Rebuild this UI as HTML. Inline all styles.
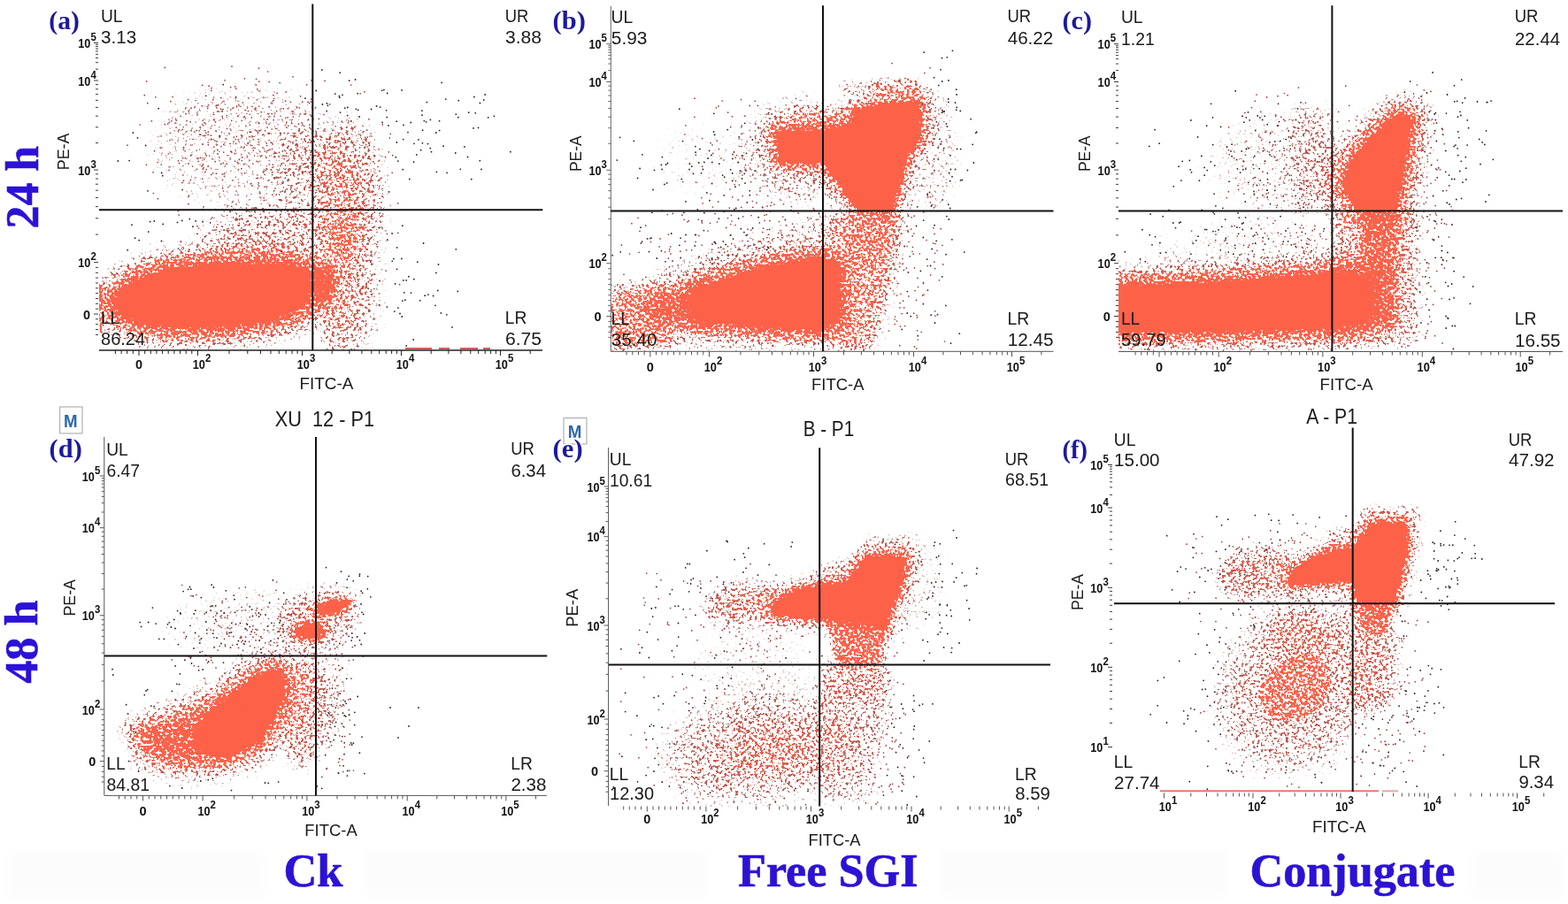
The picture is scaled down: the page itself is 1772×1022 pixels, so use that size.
<!DOCTYPE html>
<html lang="en"><head><meta charset="utf-8"><title>Flow cytometry</title>
<style>html,body{margin:0;padding:0;background:#fff;overflow:hidden}svg{display:block}text{font-family:"Liberation Sans",sans-serif}.tk{font-size:14.5px;font-weight:bold;fill:#111}.se{font-family:"Liberation Serif",serif;font-weight:bold}</style></head><body>
<svg width="1772" height="1022" viewBox="0 0 1772 1022">
<defs>
<filter id="b1" x="-50%" y="-50%" width="200%" height="200%"><feGaussianBlur stdDeviation="1"/></filter>
<filter id="b2" x="-50%" y="-50%" width="200%" height="200%"><feGaussianBlur stdDeviation="2"/></filter>
<filter id="b3" x="-50%" y="-50%" width="200%" height="200%"><feGaussianBlur stdDeviation="3"/></filter>
<filter id="b4" x="-50%" y="-50%" width="200%" height="200%"><feGaussianBlur stdDeviation="4"/></filter>
<filter id="b5" x="-50%" y="-50%" width="200%" height="200%"><feGaussianBlur stdDeviation="5"/></filter>
<filter id="b6" x="-50%" y="-50%" width="200%" height="200%"><feGaussianBlur stdDeviation="6"/></filter>
<filter id="b7" x="-50%" y="-50%" width="200%" height="200%"><feGaussianBlur stdDeviation="7"/></filter>
<filter id="b8" x="-50%" y="-50%" width="200%" height="200%"><feGaussianBlur stdDeviation="8"/></filter>
<filter id="b10" x="-50%" y="-50%" width="200%" height="200%"><feGaussianBlur stdDeviation="10"/></filter>
<filter id="b12" x="-50%" y="-50%" width="200%" height="200%"><feGaussianBlur stdDeviation="12"/></filter>
<filter id="b14" x="-50%" y="-50%" width="200%" height="200%"><feGaussianBlur stdDeviation="14"/></filter>
<filter id="b16" x="-50%" y="-50%" width="200%" height="200%"><feGaussianBlur stdDeviation="16"/></filter>
<filter id="b20" x="-50%" y="-50%" width="200%" height="200%"><feGaussianBlur stdDeviation="20"/></filter>
<filter id="b24" x="-50%" y="-50%" width="200%" height="200%"><feGaussianBlur stdDeviation="24"/></filter>
<filter id="sp" filterUnits="userSpaceOnUse" x="0" y="0" width="1772" height="1022" color-interpolation-filters="sRGB">
<feTurbulence type="fractalNoise" baseFrequency="0.32" numOctaves="2" seed="7" result="noise"/>
<feColorMatrix in="noise" type="matrix" values="0 0 0 0 0 0 0 0 0 0 0 0 0 0 0 1 0 0 0 0" result="n0"/>
<feComponentTransfer in="n0" result="nA"><feFuncA type="table" tableValues="0.000 0.000 0.000 0.000 0.000 0.000 0.000 0.001 0.003 0.007 0.014 0.028 0.046 0.070 0.107 0.146 0.202 0.258 0.322 0.410 0.487 0.580 0.671 0.739 0.808 0.857 0.898 0.935 0.959 0.976 0.988 0.994 0.998 0.999 1.000 1.000 1.000 1.000 1.000 1.000 1.000"/></feComponentTransfer>
<feGaussianBlur in="SourceAlpha" stdDeviation="1.5" result="D"/>
<feComposite in="D" in2="nA" operator="arithmetic" k1="0" k2="1.18" k3="1" k4="-1" result="sum"/>
<feComponentTransfer in="sum" result="mask"><feFuncA type="linear" slope="6" intercept="0"/></feComponentTransfer>
<feFlood flood-color="#a54f4b" result="fk"/>
<feComposite in="fk" in2="mask" operator="in" result="K"/>
<feFlood flood-color="#fd6249" result="fs"/>
<feComposite in="fs" in2="mask" operator="in" result="S"/>
<feComponentTransfer in="D" result="D2"><feFuncA type="linear" slope="3.3" intercept="-0.4"/></feComponentTransfer>
<feComposite in="S" in2="D2" operator="in" result="S2"/>
<feMerge result="M"><feMergeNode in="K"/><feMergeNode in="S2"/></feMerge>
<feGaussianBlur in="M" stdDeviation="0.45"/>
</filter>
<clipPath id="ca"><rect x="112" y="5" width="502" height="391"/></clipPath>
<clipPath id="cb"><rect x="690" y="6" width="501" height="391"/></clipPath>
<clipPath id="cc"><rect x="1264" y="6" width="503" height="391"/></clipPath>
<clipPath id="cd"><rect x="118" y="494" width="501" height="405.5"/></clipPath>
<clipPath id="ce"><rect x="688" y="506" width="500" height="405.5"/></clipPath>
<clipPath id="cf"><rect x="1258" y="483" width="500" height="412.5"/></clipPath>
</defs>
<rect width="1772" height="1022" fill="#fff"/>
<rect x="8" y="962" width="292" height="52" fill="#fcfcfc" filter="url(#b6)"/>
<rect x="412" y="962" width="388" height="52" fill="#fcfcfc" filter="url(#b6)"/>
<rect x="1062" y="962" width="326" height="52" fill="#fcfcfc" filter="url(#b6)"/>
<rect x="1662" y="962" width="104" height="52" fill="#fcfcfc" filter="url(#b6)"/>
<g id="panel-a">
<path d="M314.2 194.5h0M313.1 105.3h0M353.4 178.7h0M252.4 184.4h0M315.5 172.4h0M292 183h0M238.4 153.2h0M256.3 185.2h0M292.8 147.7h0M235.3 149.2h0M290.6 148.4h0M380.6 202.3h0M277.8 142.3h0M305 169.1h0M263.6 245.8h0M335.3 187.8h0M254 90.8h0M301.7 164.6h0M204.1 131.3h0M285 120.3h0M283.1 164h0M292.5 138.7h0M331.6 197.4h0M312.5 125.6h0M341.2 138.9h0M351.5 115h0M354 159.2h0M202.6 146.8h0M293.8 171.5h0M221.2 113.5h0M304 140.4h0M306.5 191.9h0M174.6 170.7h0M375.7 147.5h0M233.2 191.6h0M307.7 197.6h0M265.8 97.8h0M282.3 141.3h0M344.3 168.1h0M175.8 109.8h0M351.9 188.6h0M245.2 160h0M321.2 179.7h0M351.3 170.8h0M283.4 149.1h0M280.3 161.4h0M190.2 174h0M244.4 196.2h0M281.2 188.1h0M375.3 176.1h0M228.7 96.4h0M412.7 155.3h0M241.8 166.1h0M276.6 195.8h0M292.4 160.6h0M240 179.7h0M217.6 188h0M396.7 96h0M202.5 184.7h0M231.1 138.7h0M265.6 182.3h0M261.6 171.7h0M277.6 124.5h0M267.6 120.1h0M290.5 112.8h0M213.5 221.2h0M286.3 157.7h0M325.8 142.3h0M274 177.9h0M309.8 111.3h0M348.3 135.2h0M216.1 122.2h0M262.7 228.3h0M207.7 166.7h0M353 150.1h0M245.9 169.7h0M339 187.9h0M428.1 168.8h0M248.5 154.7h0M284.9 164.6h0M287.9 167.3h0M173 194.8h0M249.8 110.7h0M334.6 215.3h0M324.5 166.8h0M351.6 112.1h0M235.4 163.7h0M181.2 167.1h0M257.9 211.5h0M292.9 92.1h0M367.7 167.1h0M328.4 115.3h0M418 244.8h0M215.5 175.7h0M242.9 159h0M201.4 238.4h0M222.2 147.6h0M325.1 132.8h0M273.2 136.3h0M280.7 110.8h0M259.3 151.3h0M266.6 162.4h0M269.5 191.6h0M267.4 154.3h0M243.5 137.9h0M201.5 181.8h0M210 128.7h0M315.1 176.9h0M262 75.2h0M319.4 170.9h0M191.1 192.4h0M240.9 112.7h0M296.7 152.5h0M304.2 92.6h0M416.9 134.7h0M182.2 186h0M265.2 173.6h0M266.2 157.5h0M307.2 128.6h0M337.5 140.3h0M229.1 163.2h0M321.2 150.4h0M229.6 186h0M166.8 116.7h0M292.8 102.8h0M292 157.7h0M352.9 121.6h0M246.2 174h0M241.1 129.3h0M350.3 158.3h0M165.4 186.3h0M349.9 141.1h0M270.3 180.4h0M226.4 178.4h0M304 131.7h0M192.6 150.5h0M228.7 202.1h0M300.1 192.8h0M299.4 171h0M235.2 188.1h0M414.9 147h0M248.5 153.4h0M256.3 130.5h0M299.7 147.8h0M390.7 160h0M312.7 200h0M268.9 220.3h0M245.7 126.1h0M264.4 155.2h0M191.9 158.5h0M173.3 218.5h0M284.3 133h0M226.4 143.9h0M274.4 116.1h0M225.6 152.1h0M253.5 199.4h0M369.7 160.7h0M323.2 103.9h0M334.6 158.7h0M323.9 227.2h0M213.1 184.9h0M198.1 139.2h0M304.2 185.8h0M295.2 126.7h0M251.3 197.1h0M289.6 89.3h0M349.1 177.5h0M351.1 145.9h0M348 115.4h0M329.9 139.4h0M337.2 202.2h0M238.5 157.8h0M292.7 210h0M339.7 108.8h0M322 191.3h0M252.5 216h0M195.1 109.6h0M326.2 202.8h0M243.2 182.7h0M298.2 223.8h0M289.9 201.6h0M226.8 152.2h0M283.2 207.8h0M330.6 128.4h0M337.7 192.4h0M282.2 149.2h0M276.4 88.8h0M303.2 169.9h0M229.4 191.2h0M193.9 136.8h0M256.7 243.5h0M178.1 183.6h0M355.9 175.9h0M372.7 117.9h0M206.3 146.3h0M207.5 204.2h0M350.6 129.8h0M353.2 165.1h0M280.2 162.4h0M275.8 185.8h0M311.7 145.3h0M360.4 134.3h0M310.1 177.7h0M393.5 138.8h0M412 167.4h0M276.4 131.8h0M331 162.1h0M212.7 112.6h0M251.1 131.6h0M366.3 217.8h0M350.8 175h0M260 162.3h0M353.9 148.2h0M292.7 139.7h0M235.2 152.3h0M303.7 237.1h0M293.6 217h0M413.7 163.3h0M402.5 190h0M260.8 171.1h0M291.6 150.2h0M276.1 166.1h0M320.4 122.8h0M289.3 96.1h0M308.3 186.2h0M301.5 172h0M331.3 132.1h0M273.3 181.5h0M360.1 176.6h0M360 213.2h0M280.6 125.5h0M207.2 166.8h0M367.7 171.4h0M302.1 144.1h0M306.3 161.2h0M192.9 114.7h0M205.9 206.6h0M227.8 188.1h0M331.1 170.9h0M198.5 134.3h0M407.1 105.8h0M231.8 153.2h0M346.6 170.6h0M341.9 115.2h0M356.1 183.9h0M178.4 224.7h0M293.9 218.7h0M186.3 76.4h0M199.2 136.2h0M249.5 185.5h0M308.8 107.7h0M329.7 238.7h0M373.8 201.6h0M291.4 201.3h0M222.4 191.5h0M283.9 207.5h0M322.6 114.2h0M299 211.2h0M211 136.5h0M236.2 97.2h0M357.3 215.1h0M346 170.2h0M286.4 170.1h0M238.8 197.5h0M363.2 199.2h0M252.8 163.3h0M278.4 235.1h0M302.6 81h0M317.9 239.1h0M338 196.9h0M292.5 77.2h0M163.3 107.7h0M281.1 173h0M338.3 145.7h0M357 148.3h0M240.7 195.8h0M215.8 164h0M266.8 100.1h0M186.2 140.6h0M251.7 212.9h0M316.2 93.6h0M230.2 189.6h0M422.7 176.2h0M311.7 238.2h0M288.4 147h0M191.1 138.5h0M290.8 100.9h0M299 197.3h0M272.9 190.7h0M340.5 178.8h0M410.1 192.7h0M268.7 131.4h0M230.8 180h0M419 151h0M267 231h0M158.2 141h0M356.6 121.7h0M256.6 145.3h0M336.3 165.8h0M318.1 185h0M292.1 206.6h0M239 99.7h0M165.6 91.9h0M251.5 203.3h0M302.2 134.9h0M215.1 137.8h0M261.7 136.3h0M189.7 140h0M302.8 128.6h0M144 164.2h0M417.2 164.6h0M371.3 157h0M260.7 98.6h0M344.9 172h0M253.2 196.5h0M229 187h0M224.2 182.4h0M212.9 222.5h0M307.8 220.2h0M232.4 140h0M215.3 203.4h0M322.6 201.1h0M268.3 183.7h0M238.8 102.4h0M171.4 136.8h0M251.6 133.6h0M252.7 172.1h0M249.5 123.2h0M212.9 230.7h0M399.2 171.5h0M249.9 165.6h0M209.3 171h0M290.2 182.3h0M356.5 232.8h0M262.8 203.8h0M234.6 122.4h0M246.7 118.8h0M358.6 198.8h0M379.1 158.9h0M309.2 135.7h0M209.4 178.8h0M308.8 113.5h0M331 86.8h0M277.5 133.5h0M253 114.5h0M356.7 183.8h0M372.8 165.5h0M199.1 144.1h0M206.6 178.8h0M373.9 173.3h0M385.7 357h0M395.3 192.4h0M382 254.6h0M377.1 182.4h0M365.9 129.6h0M392.7 279.8h0M411.8 103.8h0M413.5 246.9h0M346.5 256.1h0M413.8 290h0M411.1 323.9h0M416.2 245.4h0M400 210.7h0M409.9 312.1h0M360.1 322.9h0M375.2 186h0M407.1 199.2h0M415.2 155.1h0M390.5 181h0M382.4 218.7h0M355.6 300.9h0M352.1 170.1h0M416.2 326.4h0M409.5 275.8h0M367.2 169.1h0M416.4 271.7h0M422.8 326.5h0M382.8 183.2h0M418.6 296.2h0M379.4 232.9h0M379.2 222.9h0M378.1 272h0M395.8 317.1h0M389.2 312.6h0M441.3 151.3h0M381.2 305.4h0M363.1 306.7h0M346.7 95.8h0M349.7 116.6h0M389 223.4h0M399.4 166h0M388.2 285.3h0M382.3 198.4h0M392.2 322.4h0M409.6 324.2h0M372.7 186.9h0M449.7 229.8h0M404 308.1h0M432.3 140.9h0M375.2 214.4h0M398.6 292.1h0M407.6 152.8h0M418.4 180.1h0M352.9 170.8h0M364.3 263.1h0M373.5 321.5h0M395.9 290.1h0M344.9 325.9h0M342.9 265.2h0M405.3 320.5h0M371.8 211.5h0M425.1 250.1h0M386.2 137.2h0M394.5 301.7h0M366.2 209.4h0M437.4 264.3h0M381.3 159h0M371.4 230h0M431.1 201.2h0M443.8 175.7h0M379.3 317.5h0M382.8 183.6h0M386 285.9h0M338.5 230.1h0M386.7 217.7h0M412.1 204.5h0M379.1 253h0M411.9 232.3h0M435.5 177.4h0M428.6 181.4h0M385.1 279.1h0M451.6 321.7h0M377.8 353.9h0M383.6 186.7h0M403.5 257.6h0M418.6 206h0M401.4 300.8h0M398.3 247.7h0M369.1 322.3h0M394.1 289.7h0M379.5 251h0M358.9 256.8h0M413 257.4h0M415.8 275h0M430.9 234.8h0M340.8 284.6h0M385 172.1h0M409.5 271.1h0M403.4 223.4h0M395.9 270.3h0M443.2 195.3h0M389.7 279.1h0M338.3 121.8h0M407.2 182.1h0M367.1 91.4h0M363 312.8h0M348.3 297.6h0M375.8 351.1h0M416.7 227.1h0M340.1 370.8h0M349.1 212.1h0M416.5 339.3h0M364.6 247.4h0M382.2 344.5h0M390.4 161.3h0M449.8 263.3h0M367.9 210.1h0M372.7 265.1h0M385.3 302.5h0M436.2 306.1h0M353.2 120.1h0M367.3 334.3h0M379.9 196.6h0M394.1 136.8h0M355.8 290.8h0M380.9 213.7h0M399.5 203.2h0M369.4 213.2h0M408.1 254.8h0M354.2 225.8h0M355.7 277.1h0M382.2 316h0M403.5 367.8h0M405.6 206.4h0M373.8 282.4h0M440.3 156.1h0M400.5 143.5h0M340.3 309.5h0M406.6 166.9h0M439.3 171.8h0M355 302.2h0M396.6 237.2h0M388 267.9h0M385.8 236.2h0M333.1 142.6h0M408.3 193.7h0M202.2 243.1h0M250 280.7h0M362.1 263.5h0M386.1 265.6h0M275.1 265.6h0M293.1 273h0M224.8 277h0M277 274.8h0M222.9 255.7h0M303.9 275.5h0M239.1 287h0M324.1 254.1h0M360.9 263.5h0M338.4 254.1h0M278.7 270.7h0M314.4 249.5h0M266.6 272h0M336.2 258.8h0M339 275h0M302.6 246.8h0M230.1 233.9h0M361.1 258.9h0M273 257.8h0M233 266.6h0M365.9 279.1h0M221.7 282.5h0M261.8 233.3h0M238.5 247.5h0M299.7 246.5h0M224.5 258h0M396.2 251.5h0M323.2 263.2h0M354.8 242.8h0M270.4 260.5h0M205.6 281.5h0M258 258.4h0M298.8 263.5h0M291.5 266h0M319.4 274.8h0M278.6 250.8h0M246.8 270.9h0M297.7 270.3h0M326.9 287.3h0M310.4 273.3h0M239.9 245.8h0M284.4 243.7h0M334.5 242h0M244.8 256.9h0M287 235.1h0M305.4 276.6h0M332.4 252.1h0M270.6 244.2h0M331.5 283.6h0M273.7 236.5h0M310 272.6h0M327.5 268h0M353.1 247.9h0M257.7 268.1h0M265.7 265.9h0M204.4 273.4h0" stroke="#9c3a36" stroke-width="1.7" stroke-linecap="round" fill="none"/>
<path d="M546.7 112.9h0M473 157.9h0M576.9 171.7h0M540.5 144.4h0M514.8 173h0M470.8 174.9h0M535 144.9h0M532.8 202.7h0M492.8 150h0M477 130.2h0M496.6 136.8h0M476.9 125.2h0M425.5 120h0M503.8 112.1h0M462.8 202.5h0M537.3 127.8h0M515.3 129.2h0M558.4 131.3h0M493.4 194.3h0M455.2 191.7h0M455.7 157.6h0M477.6 147.2h0M496.7 147.6h0M447.3 177.7h0M520.3 191.3h0M548.2 107h0M544 191.5h0M467.6 183.2h0M551.7 132.8h0M432.1 138.5h0M439 141.9h0M448.2 137.2h0M505.1 195.3h0M481.7 137.8h0M535.9 109.5h0M437.7 105.5h0M483.4 162.6h0M486.2 167.6h0M524.9 165.9h0M456 141.4h0M542.4 116.5h0M479.4 136.6h0M482.4 115.6h0M529.7 127.2h0M487.5 171.7h0M475.6 169.7h0M464.2 138.5h0M486.4 135.4h0M501 165.2h0M448.3 161h0M499.1 93.4h0M449.9 182.1h0M461 149.6h0M518.3 113.7h0M542.3 181.7h0M517.8 132.7h0M528.5 177.4h0M439.6 216.9h0M477.4 161.8h0M468 162.3h0M387 107.3h0M369.4 116.9h0M429.6 121.1h0M419.6 123.5h0M454.1 101.9h0M402.4 123.3h0M383.4 108.7h0M369.2 125.6h0M404.1 105.7h0M352.2 90.8h0M370.4 119.3h0M363.9 78.9h0M357.3 102.5h0M384.5 127.1h0M437.2 132.6h0M394.7 91.2h0M384.3 82.2h0M404.7 124.4h0M345 111.2h0M406.2 132h0M436.6 124.8h0M378.8 106.1h0M431.7 102.3h0M396.8 137h0M401.6 90h0M389.7 122.2h0M392.7 130.6h0M433.9 101.6h0M383.9 110.3h0M364.4 118h0M179.2 122.7h0M352.1 131.3h0M133.3 182h0M146.1 181.6h0M183.7 198.7h0M232.7 108.3h0M252.2 95.6h0M266.7 109.8h0M164.6 164.5h0M206.1 214.6h0M155.5 155.9h0M167 215.8h0M150.4 150.2h0M182.7 195.5h0M392.8 121.5h0M455.8 316.9h0M471.8 296.2h0M452 354.5h0M464.5 331.1h0M428.5 344.9h0M454.3 358h0M517.3 329.4h0M478.6 275h0M459.2 390.9h0M453.9 292.4h0M461.9 312.7h0M448.5 304.3h0M515.3 281.8h0M443.3 295.3h0M492.9 308.4h0M494.8 328.5h0M454.9 255.2h0M492 345.3h0M467.8 315.7h0M443.1 263.9h0M484 333.1h0M444.9 292.6h0M459.1 316.9h0M504.9 355.8h0M437.8 271.2h0M448.6 279.9h0M457.9 339.2h0M474.8 339.8h0M450 348.1h0M429.1 317.6h0M480.2 334.2h0M511 369.9h0M495.5 299h0M454.9 340.1h0M446.6 320.9h0M467.2 384h0M429 257.3h0M456.8 330.8h0M498.4 353.9h0M437.4 347.1h0M489.6 334.5h0M445.9 352.1h0M174.3 250h0M167.8 262.1h0M184.2 253.5h0M221.1 249.9h0M169.6 250.7h0M229.1 250.7h0M317.4 284.1h0M294.4 253.5h0M280.3 250.2h0M318.5 284h0M268.3 248.4h0M200.5 251.4h0M237.7 251.8h0M314.1 249.6h0M231.5 267.6h0M214.3 247.6h0M223 264.3h0M149 254.2h0M205.8 249.4h0M157.2 271.7h0M312.9 281.6h0M278.2 272.4h0M217.9 256.2h0M144.2 282.7h0M152.6 269.2h0M182.5 272.5h0" stroke="#2e1c1c" stroke-width="1.8" stroke-linecap="round" fill="none"/>
<g filter="url(#sp)" clip-path="url(#ca)"><g>
<ellipse cx="275" cy="165" rx="105" ry="68" fill-opacity="0.11" filter="url(#b12)"/>
<ellipse cx="338" cy="200" rx="30" ry="60" fill-opacity="0.119" filter="url(#b10)"/>
<rect x="200" y="119" width="152" height="8" fill-opacity="0.068" filter="url(#b3)"/>
<rect x="200" y="149" width="152" height="8" fill-opacity="0.068" filter="url(#b3)"/>
<rect x="225" y="173" width="127" height="6" fill-opacity="0.051" filter="url(#b3)"/>
<ellipse cx="300" cy="262" rx="70" ry="28" fill-opacity="0.212" filter="url(#b10)"/>
<ellipse cx="392" cy="215" rx="40" ry="80" fill-opacity="0.254" filter="url(#b10)"/>
<ellipse cx="388" cy="225" rx="22" ry="50" fill-opacity="0.17" filter="url(#b8)"/>
<ellipse cx="388" cy="325" rx="32" ry="80" fill-opacity="0.28" filter="url(#b10)"/>
<ellipse cx="383" cy="325" rx="16" ry="60" fill-opacity="0.117" filter="url(#b8)"/>
<ellipse cx="425" cy="290" rx="14" ry="100" fill-opacity="0.068" filter="url(#b8)"/>
<g opacity="0.271" filter="url(#b8)"><path d="M125 340L150 318L190 304L230 299L300 297L330 299L348 305L351 320L348 340L335 352L300 364L250 370L200 371L160 366L135 355Z" stroke="#000" stroke-width="48" stroke-linejoin="round"/></g>
<g opacity="0.558" filter="url(#b5)"><path d="M125 340L150 318L190 304L230 299L300 297L330 299L348 305L351 320L348 340L335 352L300 364L250 370L200 371L160 366L135 355Z" stroke="#000" stroke-width="24" stroke-linejoin="round"/></g>
<path d="M125 340L150 318L190 304L230 299L300 297L330 299L348 305L351 320L348 340L335 352L300 364L250 370L200 371L160 366L135 355Z" filter="url(#b2)"/>
<ellipse cx="366" cy="322" rx="14" ry="24" fill-opacity="0.72" filter="url(#b3)"/>
<rect x="112" y="320" width="3" height="56" fill-opacity="0.9"/>
</g></g>
<path d="M111 296.6h-5M111 265.1h-3M111 246.7h-3M111 233.6h-3M111 223.5h-3M111 215.2h-3M111 208.2h-3M111 202.1h-3M111 196.8h-3M111 192h-5M111 161.6h-3M111 143.8h-3M111 131.2h-3M111 121.4h-3M111 113.4h-3M111 106.6h-3M111 100.8h-3M111 95.6h-3M111 91h-5M111 78.2h-3M111 70.7h-3M111 65.4h-3M111 61.3h-3M111 57.9h-3M111 55.1h-3M111 52.6h-3M111 50.4h-3M111 48.5h-5M111 355h-5M111 378.4h-3M111 372.5h-3M111 366.7h-3M111 360.8h-3M111 349.2h-3M111 343.3h-3M111 337.5h-3M111 331.6h-3M111 325.8h-3M111 320h-3M111 314.1h-3M111 308.3h-3M111 302.4h-3" stroke="#3a3a3a" stroke-width="1" fill="none"/>
<line x1="112" y1="396" x2="613" y2="396" stroke="#222" stroke-width="1.3"/>
<path d="M223.5 396v6M259 396v4M279.8 396v4M294.5 396v4M306 396v4M315.3 396v4M323.2 396v4M330.1 396v4M336.1 396v4M341.5 396v6M375.2 396v4M394.9 396v4M408.9 396v4M419.8 396v4M428.7 396v4M436.2 396v4M442.6 396v4M448.4 396v4M453.5 396v6M487.2 396v4M506.9 396v4M520.9 396v4M531.8 396v4M540.7 396v4M548.2 396v4M554.6 396v4M560.4 396v4M565.5 396v6M599.2 396v4M157 396v6M130.4 396v4M137.1 396v4M143.7 396v4M150.3 396v4M163.7 396v4M170.3 396v4M176.9 396v4M183.6 396v4M190.2 396v4M196.9 396v4M203.6 396v4M210.2 396v4M216.8 396v4" stroke="#222" stroke-width="1" fill="none"/>
<line x1="353.3" y1="4.5" x2="353.3" y2="396" stroke="#111" stroke-width="2"/>
<line x1="112" y1="237.3" x2="613.3" y2="237.3" stroke="#111" stroke-width="2"/>
<path d="M458 394h30M496 394h12M520 394h20M546 394h8" stroke="#d0605a" stroke-width="2" fill="none"/>
<text x="113.9" y="24.6" font-size="20" textLength="24.6" lengthAdjust="spacingAndGlyphs" fill="#1a1a1a">UL</text>
<text x="114.1" y="49" font-size="20" textLength="40.1" lengthAdjust="spacingAndGlyphs" fill="#1a1a1a">3.13</text>
<text x="570.8" y="24.6" font-size="20" textLength="26.6" lengthAdjust="spacingAndGlyphs" fill="#1a1a1a">UR</text>
<text x="571" y="48.8" font-size="20" textLength="41.1" lengthAdjust="spacingAndGlyphs" fill="#1a1a1a">3.88</text>
<text x="113.9" y="365.6" font-size="20" textLength="21.4" lengthAdjust="spacingAndGlyphs" fill="#1a1a1a">LL</text>
<text x="114.1" y="390" font-size="20" textLength="49.9" lengthAdjust="spacingAndGlyphs" fill="#1a1a1a">86.24</text>
<text x="570.8" y="366" font-size="20" textLength="24.6" lengthAdjust="spacingAndGlyphs" fill="#1a1a1a">LR</text>
<text x="571" y="390.3" font-size="20" textLength="41.1" lengthAdjust="spacingAndGlyphs" fill="#1a1a1a">6.75</text>
<text x="88.3" y="54" class="tk" textLength="20.5" lengthAdjust="spacingAndGlyphs">10<tspan dy="-8" font-size="13">5</tspan></text>
<text x="88.3" y="96.5" class="tk" textLength="20.5" lengthAdjust="spacingAndGlyphs">10<tspan dy="-8" font-size="13">4</tspan></text>
<text x="88.3" y="197.5" class="tk" textLength="20.5" lengthAdjust="spacingAndGlyphs">10<tspan dy="-8" font-size="13">3</tspan></text>
<text x="88.3" y="302.1" class="tk" textLength="20.5" lengthAdjust="spacingAndGlyphs">10<tspan dy="-8" font-size="13">2</tspan></text>
<text x="98" y="360.5" class="tk" text-anchor="middle">0</text>
<text x="217.8" y="417.2" class="tk" textLength="20.5" lengthAdjust="spacingAndGlyphs">10<tspan dy="-8" font-size="13">2</tspan></text>
<text x="335.8" y="417.2" class="tk" textLength="20.5" lengthAdjust="spacingAndGlyphs">10<tspan dy="-8" font-size="13">3</tspan></text>
<text x="447.8" y="417.2" class="tk" textLength="20.5" lengthAdjust="spacingAndGlyphs">10<tspan dy="-8" font-size="13">4</tspan></text>
<text x="559.8" y="417.2" class="tk" textLength="20.5" lengthAdjust="spacingAndGlyphs">10<tspan dy="-8" font-size="13">5</tspan></text>
<text x="157" y="417.2" class="tk" text-anchor="middle">0</text>
<text x="338.4" y="440" font-size="19" textLength="61" lengthAdjust="spacingAndGlyphs" fill="#1a1a1a">FITC-A</text>
<text x="78.5" y="192.2" font-size="19" textLength="41.6" lengthAdjust="spacingAndGlyphs" fill="#1a1a1a" transform="rotate(-90 78.5 192.2)">PE-A</text>
<text x="55.3" y="32.6" font-size="30" textLength="34.6" lengthAdjust="spacingAndGlyphs" fill="#1d1a9c" class="se">(a)</text>
</g>
<g id="panel-b">
<path d="M890.4 176.5h0M979 251.5h0M862.1 234.8h0M895.5 175.1h0M933.8 186h0M861.9 164.4h0M905 195.5h0M910 172.7h0M887 159.8h0M926.3 208.5h0M898.2 218.5h0M824.4 235.2h0M993.1 126.3h0M784.9 132.3h0M926.3 205.8h0M939.3 232.5h0M891.6 212.8h0M870.7 239.1h0M817.9 181h0M893.4 281.1h0M838 151.4h0M849 243.6h0M867.1 259.6h0M777 250.8h0M936.9 136.2h0M888.4 254.7h0M884.8 245h0M864.6 165.3h0M915.6 191.1h0M870.2 195.3h0M915.7 152h0M945.9 203.3h0M963.1 199.6h0M839.2 221.5h0M875.8 143.6h0M831.3 279.5h0M899.5 218.7h0M864.8 169h0M929 195.3h0M838.2 194h0M830.2 208.6h0M942.1 162.4h0M958.6 170h0M888.4 162.4h0M867.8 202.1h0M856.1 168.4h0M842.7 163h0M793.6 188.2h0M902.1 240.9h0M897.5 179.5h0M982.9 152.9h0M933.3 157h0M899.5 111.4h0M929.5 192.9h0M826.8 275.5h0M922.1 202.1h0M839 198h0M871 232.6h0M923.9 170h0M849.8 176.1h0M805.8 173.4h0M874.9 231.1h0M952.6 163.6h0M910.3 180h0M994.1 197.8h0M907.6 157.9h0M835.4 209.1h0M858.9 215.9h0M794.1 229.8h0M830.5 277.5h0M864.1 249.4h0M803.3 219.3h0M831.2 178.1h0M881.4 185.7h0M894.5 233.6h0M915.9 196.1h0M805 163.8h0M921.4 189.2h0M866.2 242.7h0M916.7 209.9h0M824.9 214h0M899 160.2h0M937.4 222.9h0M771.7 205.5h0M810.4 251.1h0M924.4 150.3h0M831.3 204.6h0M866.9 268.6h0M920.8 187.3h0M911.8 108.5h0M897 239h0M870.2 168h0M911.1 288.1h0M891.3 149.6h0M959.5 115.5h0M907.7 173.8h0M931.2 161.8h0M952.8 213.5h0M785 111.2h0M862.6 258.2h0M887 203h0M867 233.2h0M900.8 212.6h0M825.8 253.5h0M955 141.4h0M853.2 114.3h0M916.1 225.1h0M847.2 119.4h0M941.8 173.5h0M855 229.2h0M838.2 142.1h0M792.9 223.6h0M884.9 207.2h0M926.3 161.9h0M812 120.1h0M861.6 234.2h0M871.8 228.9h0M815 178.9h0M837.9 143.8h0M982.3 238.3h0M838.1 165.5h0M876.9 135.1h0M904 141.8h0M859.6 153.9h0M853.6 140.1h0M793.5 156.5h0M842.6 186.7h0M883.8 268.7h0M924.7 188.6h0M919.9 169h0M959.7 224.7h0M805.4 234h0M838.9 178.7h0M773.9 152h0M827.8 222.8h0M858.3 251.9h0M884.3 212.2h0M816.2 114h0M837.8 234.3h0M967.1 227.2h0M907.4 162.3h0M964.4 260.5h0M850.8 197.9h0M825.2 266h0M902.3 195.7h0M902.4 219.8h0M857.4 144.1h0M809.4 121.8h0M786.6 206.2h0M902.6 155.7h0M891.2 150.6h0M946 173.3h0M885.5 230.8h0M856.4 119.4h0M850.8 234.3h0M875.4 210.3h0M820.6 206.4h0M920 201.6h0M984.9 190.6h0M822.7 127.2h0M943.4 197.3h0M935.6 220.6h0M969.4 257h0M859.2 212.3h0M939.7 144.4h0M959.8 254.5h0M934.1 191h0M896.6 149.7h0M883.2 173.6h0M884.8 177.7h0M895.6 253.1h0M808 241.6h0M873.4 200.3h0M904.4 125.9h0M876.7 205.7h0M949 195.3h0M909.1 156h0M869.7 180h0M918.7 155.5h0M834.1 225.9h0M978.4 217.2h0M896.7 184.4h0M939.9 224.3h0M975.3 214.9h0M827.8 174.4h0M825.7 143.7h0M949.5 236.3h0M811.9 280.2h0M893.5 156.9h0M901.2 196.9h0M837.5 112.6h0M882 213.1h0M914 178.9h0M886.2 187.4h0M834 183.8h0M954.3 134.7h0M893 208.3h0M841.1 180.2h0M803 161.7h0M880.8 214.7h0M848.6 205.7h0M867.3 182h0M951.6 178.5h0M953.4 251.4h0M822.5 246.6h0M858.8 157.7h0M774.9 141.8h0M848.1 155.1h0M812.4 168.7h0M868.6 265.2h0M786.3 175.2h0M827.5 131.8h0M810.4 159.2h0M919.4 191.3h0M850.4 227.5h0M895.4 190h0M901.1 162.7h0M914.5 221h0M857.3 145.1h0M963.6 204.2h0M926.9 180.5h0M894 237.5h0M836 195.5h0M888.9 205.1h0M912.8 246.2h0M925.8 211.8h0M860.9 149.2h0M839.5 176.2h0M917.5 183.6h0M811.7 228.2h0M835.8 165.5h0M867.6 221.3h0M889.7 183.6h0M832.5 175.6h0M956.2 179.5h0M919.2 235.6h0M855.2 220h0M855.2 172.5h0M818.1 239.4h0M858.1 175.2h0M818 281.4h0M920.8 194h0M841.8 131.2h0M896 213h0M802.5 252.3h0M922.7 156.7h0M849.4 180.8h0M888.8 193.4h0M789.9 266.3h0M897.4 256.7h0M1067.5 386h0M1032.6 354.2h0M1000.3 250.1h0M1044.8 82.6h0M1014.3 320.5h0M1052.6 196.6h0M1035.8 394.1h0M1022.4 130h0M1028.8 214.6h0M1056 264.4h0M1020 292.5h0M1043.5 320.6h0M1033.5 302.8h0M1028.6 122.3h0M1025.6 232.1h0M1026.4 262.2h0M1017.5 369.1h0M1030.2 186h0M1017.6 216.2h0M1017 347.8h0M1054.8 274.9h0M1043.9 239.9h0M1032.8 183.2h0M1030.7 185.8h0M1037.5 324.5h0M1036.2 356.6h0M1030.3 198.8h0M1020.9 127.8h0M1031.1 226.8h0M1017.3 227.1h0M1051.5 222.7h0M1011 277.6h0M1047.7 99.1h0M1025.6 260.8h0M1057 357.1h0M1033.3 181.3h0M1021.7 347.9h0M1065.7 298.9h0M1017.1 342.6h0M1022.5 213.3h0M1024.4 303.1h0M1035.5 339.4h0M1055.9 296.2h0M1033.2 244.2h0M1026.9 334.9h0M1051.3 228.8h0M1039.5 148h0M1011.1 361h0M1001.9 333h0M1043.6 319.3h0M1048.3 300.7h0M1018 332.3h0M1007.4 186.6h0M1022.7 368.5h0M1001.2 128.1h0M1036.6 209.1h0M998.5 212.2h0M1010 265.1h0M1037.3 384h0M1029.7 259h0M1018.5 247.9h0M1051 76.7h0M1043.2 201.8h0M1031.5 279.3h0M1047 271.5h0M1022.1 278.1h0M1030.2 231.6h0M1034.1 328.6h0M1032.8 264h0M1004.2 238.6h0M992.8 314.8h0M1011.2 366.6h0M1056.6 286.3h0M1018.9 174.3h0M1041.2 375.5h0M1037.1 113.9h0M1009.2 229.5h0M1057.1 275.5h0M1036.5 358.9h0M1025.9 242h0M1026.4 90h0M1039.3 287h0M1049.5 143h0M1013.7 334.1h0M1036.5 373.8h0M1012.7 268.1h0M1016.5 277.9h0M1020.3 298.2h0M1051.6 310.8h0M993.8 334.6h0M1039 156.1h0M1012.3 250.7h0M1041.5 209.4h0M997.5 275.3h0M1064.9 277.3h0M1063.2 258.7h0M1049.6 184h0M1031.6 158.7h0M998.5 225.6h0M1016.8 301.6h0M1055.4 234.8h0M1031.2 266.9h0M996.4 274.2h0M1030.2 245.8h0M1008 71.6h0M1025 278.5h0M1056.8 351.8h0M1059.1 283.3h0M1053.1 231.5h0M1042.6 333.9h0M1004.5 374h0M1014.2 244.5h0M1024.1 168.3h0M1056.7 303.6h0M1017.8 256.2h0M1021.3 305.4h0M1022.4 181h0M1017.1 210.7h0M1035.8 167.3h0M1028.2 289.9h0M1022.1 278.8h0M1061.4 316.8h0M1032.2 287.2h0M1057.2 151.8h0M1052.1 101.2h0M1031 284.3h0M996.1 311.8h0M1016.8 390.7h0M1015.8 171h0M1054.9 257.7h0M1050 121.3h0M1063 197h0M1046.4 159.6h0M999 226.9h0M1033.5 391.9h0M1037 314.4h0M1013.6 363h0M1027 273.5h0M1019.1 354.6h0M1004.9 131h0M1025.8 145.8h0M1044.1 333h0M1014.9 320.5h0M1016.8 246h0M1030 167.9h0M1011.6 358h0M996.6 207.7h0M1020.6 340.2h0M1034.6 168.9h0M879.8 263.5h0M829.1 321.2h0M782.6 311.2h0M721.1 246.3h0M786.1 273.4h0M833.6 300h0M835.1 310.1h0M810.3 302.2h0M775.7 282.6h0M920.2 237.2h0M786.9 334h0M823.2 348.2h0M831 254.6h0M778.2 249.6h0M857 349.3h0M771.4 317.7h0M773.1 248.3h0M770.8 243.2h0M763.4 306h0M841.1 343.9h0M777.4 306.7h0M822.6 317.9h0M845 259.2h0M812 327.5h0M811.2 298.6h0M705 310.3h0M763.1 326.9h0M822.5 278.7h0M807 273.7h0M754.3 242.5h0M781.8 325.8h0M802.7 296.7h0M757.7 278.9h0M839.8 244.8h0M918.7 294.7h0M925.1 338h0M769.4 322.4h0M809.7 312.8h0M841.7 277.3h0M756.7 281.7h0M711.5 287h0M807.2 304.8h0M804.8 282.1h0M768.9 284.2h0M846.3 318.8h0M840.3 295.9h0M848.9 260.1h0M894.2 350.6h0M755.3 265.1h0M798.3 289.2h0M702.4 277.2h0M751.1 311.2h0M833.6 287.1h0M798 294.6h0M787.3 321.1h0M753 304.3h0M864 243.3h0M712.7 329.8h0M723 261.4h0M827.6 287.9h0M838.2 305.6h0M790 329.6h0M923 291.7h0M880.5 334.8h0M798.3 311.2h0M735.5 273.6h0M808.4 293.6h0M869.9 249.7h0M774.2 272.9h0M782.7 336h0M719.5 325h0M756.5 284h0M851.9 285.4h0M832.1 299.4h0M781.7 282.8h0M802.2 302.6h0M702.8 330.7h0M826.9 250h0M729.9 313.4h0M789.5 291.4h0M789.4 309.6h0M745.1 278.9h0M916.4 246.9h0M766.2 299.9h0M754.5 338.9h0M797.8 322.7h0M862.6 269.8h0M872.1 305.7h0M849.5 359.9h0M800 261h0M793.4 251.9h0M746.1 269.9h0M751.6 337.6h0M844.7 265.4h0M862.6 238.1h0M755.4 292.1h0M866.4 322.6h0M822.5 342.9h0M838.4 345.2h0M748.3 238.2h0M770.6 326.6h0M811.4 328.7h0M838.6 315.7h0M845.1 272.6h0M861.7 262.5h0M789.2 248.1h0M826.5 243.4h0M880.5 250.6h0M811.7 292.8h0M743.5 341.5h0M770.4 349.1h0M734.5 269.7h0M851.3 305.7h0M786.5 265.5h0M915.1 349.1h0M793.2 277.1h0M712.1 316.6h0M751.6 284.8h0M758 287.1h0M850.5 357.2h0M805.7 298.7h0M729.7 254.9h0M732.7 329.1h0M811.6 332.1h0M822.3 284.1h0M722.1 285.3h0M710.9 368.5h0M813.2 285.4h0M917.2 284.8h0M830.6 292.5h0M818.7 285.4h0M826.9 348.6h0M878.8 304.3h0M850 288.2h0M890.6 362.7h0M726.5 322.1h0M760.3 241.4h0M778.8 318.3h0M713.9 252.7h0M871.3 299.1h0M820.7 257.4h0M756.5 301.9h0M807.1 302.6h0M891.8 303.1h0" stroke="#9c3a36" stroke-width="1.7" stroke-linecap="round" fill="none"/>
<path d="M804 175.5h0M816.6 198.1h0M754.5 184.5h0M775 227.9h0M725.9 174.8h0M843.5 173.3h0M785.9 165.6h0M822.1 146.6h0M800.1 179h0M723.1 190.5h0M779 191.7h0M853.2 192.9h0M739.5 192.3h0M716.3 159.3h0M806.6 149h0M858.8 176.9h0M841.3 196.3h0M836.4 193.2h0M804.8 183.4h0M834.7 246.9h0M835.2 154.9h0M753.6 206.9h0M827.9 179.4h0M850.4 158h0M838.4 176.1h0M818.3 220.8h0M802 226.7h0M804.6 207.5h0M825.7 191.8h0M798.9 217.9h0M789.8 184h0M831 211.2h0M697.3 181.1h0M807.6 152.4h0M827.6 204.4h0M831.8 235.5h0M752.7 186h0M748.1 191.4h0M847.4 220.7h0M748.4 177.6h0M806.8 128.3h0M841.7 139.3h0M736.8 240.3h0M790.9 168.5h0M838.6 201.9h0M700.5 155.3h0M812.8 185.2h0M829.6 171.9h0M794.4 191.5h0M771.5 159.6h0M779.4 185.2h0M801.6 170.4h0M795.9 183.4h0M827.7 195.9h0M738 214.5h0M720.6 201.4h0M770.3 202.4h0M868.6 127.6h0M843 193h0M783.6 196.3h0M781.8 188.2h0M750.9 208.4h0M842 207.1h0M772.9 240.3h0M786.1 172.2h0M847.3 215.7h0M767.8 123.2h0M834.4 183.3h0M818.7 200.2h0M747.4 186.4h0M792.5 195.8h0M1085.3 125.5h0M1071.7 112h0M1064.7 92h0M1056 192.6h0M1103.7 149.2h0M1079.5 116.2h0M1048.7 133.8h0M1062.9 162.9h0M1071.7 231.2h0M1064.5 65.7h0M1071.9 115.4h0M1073.8 204.7h0M1055.2 144.7h0M1080.7 101.2h0M1074.1 175.8h0M1087.3 203.5h0M1081.6 168.3h0M1048.3 220h0M1060.3 167h0M1072.5 195.5h0M1072 91h0M1055.5 87.8h0M1093.4 192.5h0M1081.2 121.5h0M1081.1 107h0M1074.4 191.5h0M1065.8 126.3h0M1060.4 180.3h0M1063.1 78.8h0M1060.8 96.6h0M1102.8 150.3h0M1085.7 168.6h0M1062 157.2h0M1076 199.7h0M1065.2 225.9h0M1070.3 64.8h0M1044.2 59.2h0M1055.5 179.8h0M1064.4 127.3h0M1079.7 191.4h0M1042.7 117.5h0M1076.4 57.3h0M1099.2 163.3h0M1069.5 139.9h0M1064.8 124.7h0M1100.4 184h0M1097.1 134.7h0M1050.6 217.4h0M1043.3 119.5h0M1085.5 203.8h0M1070.5 143.1h0M1058.4 137.8h0M1080.7 124.4h0M1073.4 155.1h0M1066.6 167.7h0M1067.2 126h0M1052.5 233h0M767.9 277.3h0M843.4 266.2h0M701.2 284.8h0M868.7 280.4h0M692.2 288.7h0M925.5 241.4h0M804.6 291.8h0M852 276.9h0M834.4 282.2h0M807.8 273.7h0M790.1 290.1h0M825.8 265.8h0M869.6 259.3h0M785.3 277.9h0M724.1 257.2h0M731.6 269.9h0M795.9 240.7h0M820.2 276.5h0M795.4 260.6h0M788.3 236.8h0M814.7 279.5h0M793.3 249.7h0M832.8 289h0M845.7 278.5h0M758.7 264h0M769.1 269.1h0M844.3 228.9h0M828.5 270.1h0M742.3 292h0M887.4 248.4h0M724.5 274.9h0M829.9 236.7h0M857.2 245.7h0M812.3 247.1h0M805 276.1h0M883.7 265.9h0M804.8 293.2h0M752 295.8h0M725.7 273.1h0M850.6 258h0M775 265.5h0M747.4 283.6h0M769.2 291.5h0M733.5 284.6h0M857.9 280.9h0M791.8 297.3h0M840.9 262.6h0M736 268.9h0M817.4 272.9h0M866.3 282.5h0M867.7 279.5h0M760 295.1h0M837.4 258.7h0M808.7 275.2h0M785.7 265.5h0M1043.3 268.5h0M1009.7 255h0M1043.7 249.1h0M1084.3 377.2h0M1074.5 388.2h0M1069.9 244.6h0M1037.3 379.7h0M1047.7 293.1h0M1056.5 365h0M1048.4 328.1h0M1069 287.7h0M1025.3 354h0M1029.3 357.7h0M1019.2 372.4h0M1051.6 300.5h0M1026.4 307.9h0M1025 255.8h0M1068.9 345.4h0M1072.3 248h0M1002.4 236.3h0M1059.5 355.7h0M1035.6 255.5h0M1043.4 343.7h0M1040.4 306.4h0M1026.5 244.1h0M1036.8 233.8h0M1058.2 272.3h0M1073.8 235.5h0M1075.9 270.8h0M1025.3 329.6h0M1064.8 312.8h0M1056.1 254.7h0M1052.2 356.2h0M1089.8 285.1h0M1053.2 281.5h0" stroke="#2e1c1c" stroke-width="1.8" stroke-linecap="round" fill="none"/>
<g filter="url(#sp)" clip-path="url(#cb)"><g>
<path d="M690 330L760 302L850 270L923 248L936 242L1022 242L1016 300L1002 350L988 395L690 395Z" fill-opacity="0.203" filter="url(#b8)"/>
<path d="M938 244L1016 244L1010 300L996 350L982 395L938 395Z" fill-opacity="0.256" filter="url(#b6)"/>
<path d="M962 238L1010 238L1000 300L960 300Z" fill-opacity="0.199" filter="url(#b5)"/>
<g opacity="0.543" filter="url(#b5)"><path d="M790 325L830 311L880 298L930 290L948 300L950 360L930 373L880 372L830 368L790 364L778 345Z" stroke="#000" stroke-width="24" stroke-linejoin="round"/></g>
<g opacity="0.383" filter="url(#b5)"><path d="M735 346L750 335L795 321L795 366L750 362L738 355Z" stroke="#000" stroke-width="20" stroke-linejoin="round"/></g>
<path d="M735 346L750 335L795 321L795 366L750 362L738 355Z" fill-opacity="0.431" filter="url(#b3)"/>
<path d="M690 326L750 322L760 390L690 394Z" fill-opacity="0.363" filter="url(#b6)"/>
<ellipse cx="900" cy="170" rx="60" ry="60" fill-opacity="0.153" filter="url(#b10)"/>
<ellipse cx="800" cy="180" rx="60" ry="45" fill-opacity="0.051" filter="url(#b12)"/>
<ellipse cx="1055" cy="170" rx="25" ry="70" fill-opacity="0.127" filter="url(#b8)"/>
<rect x="986" y="90" width="56" height="20" fill-opacity="0.305" filter="url(#b3)"/>
<rect x="950" y="91" width="40" height="18" fill-opacity="0.169" filter="url(#b3)"/>
<rect x="896" y="121" width="70" height="24" fill-opacity="0.237" filter="url(#b3)"/>
<g opacity="0.186" filter="url(#b6)"><path d="M1040 114L1041 155L1026 176L1017 211L1008 238L970 238L949 211L931 185L880 184L876 147L931 146L960 140L966 123L1000 116Z" stroke="#000" stroke-width="30" stroke-linejoin="round"/></g>
<g opacity="0.396" filter="url(#b4)"><path d="M1040 114L1041 155L1026 176L1017 211L1008 238L970 238L949 211L931 185L880 184L876 147L931 146L960 140L966 123L1000 116Z" stroke="#000" stroke-width="12" stroke-linejoin="round"/></g>
<path d="M790 325L830 311L880 298L930 290L948 300L950 360L930 373L880 372L830 368L790 364L778 345Z" filter="url(#b2)"/>
<path d="M1040 114L1041 155L1026 176L1017 211L1008 238L970 238L949 211L931 185L880 184L876 147L931 146L960 140L966 123L1000 116Z" filter="url(#b2)"/>
</g></g>
<line x1="690.3" y1="7" x2="690.3" y2="397" stroke="#666" stroke-width="1"/>
<path d="M690.3 297.7h-5M690.3 266h-3M690.3 247.4h-3M690.3 234.2h-3M690.3 224h-3M690.3 215.7h-3M690.3 208.6h-3M690.3 202.5h-3M690.3 197.1h-3M690.3 192.3h-5M690.3 162.3h-3M690.3 144.7h-3M690.3 132.2h-3M690.3 122.5h-3M690.3 114.6h-3M690.3 108h-3M690.3 102.2h-3M690.3 97.1h-3M690.3 92.5h-5M690.3 79.6h-3M690.3 72.1h-3M690.3 66.7h-3M690.3 62.6h-3M690.3 59.2h-3M690.3 56.3h-3M690.3 53.8h-3M690.3 51.7h-3M690.3 49.7h-5M690.3 357.5h-5M690.3 381.4h-3M690.3 375.4h-3M690.3 369.5h-3M690.3 363.5h-3M690.3 351.5h-3M690.3 345.5h-3M690.3 339.6h-3M690.3 333.6h-3M690.3 327.6h-3M690.3 321.6h-3M690.3 315.6h-3M690.3 309.7h-3M690.3 303.7h-3" stroke="#666" stroke-width="1" fill="none"/>
<line x1="690" y1="397.3" x2="1190.5" y2="397.3" stroke="#555" stroke-width="1"/>
<path d="M801.5 397.3v6M837 397.3v4M857.8 397.3v4M872.5 397.3v4M884 397.3v4M893.3 397.3v4M901.2 397.3v4M908.1 397.3v4M914.1 397.3v4M919.5 397.3v6M953.5 397.3v4M973.4 397.3v4M987.5 397.3v4M998.5 397.3v4M1007.4 397.3v4M1015 397.3v4M1021.5 397.3v4M1027.3 397.3v4M1032.5 397.3v6M1065.9 397.3v4M1085.5 397.3v4M1099.3 397.3v4M1110.1 397.3v4M1118.9 397.3v4M1126.3 397.3v4M1132.7 397.3v4M1138.4 397.3v4M1143.5 397.3v6M1176.9 397.3v4M734.8 397.3v6M708.1 397.3v4M714.8 397.3v4M721.5 397.3v4M728.1 397.3v4M741.5 397.3v4M748.1 397.3v4M754.8 397.3v4M761.5 397.3v4M768.1 397.3v4M774.8 397.3v4M781.5 397.3v4M788.2 397.3v4M794.8 397.3v4" stroke="#555" stroke-width="1" fill="none"/>
<line x1="930" y1="6.3" x2="930" y2="397" stroke="#111" stroke-width="2"/>
<line x1="690" y1="238.6" x2="1190.5" y2="238.6" stroke="#111" stroke-width="2"/>
<text x="690.6" y="25.5" font-size="20" textLength="24.6" lengthAdjust="spacingAndGlyphs" fill="#1a1a1a">UL</text>
<text x="690.8" y="49.7" font-size="20" textLength="40.6" lengthAdjust="spacingAndGlyphs" fill="#1a1a1a">5.93</text>
<text x="1138.5" y="25" font-size="20" textLength="26.6" lengthAdjust="spacingAndGlyphs" fill="#1a1a1a">UR</text>
<text x="1138.7" y="49.7" font-size="20" textLength="51.6" lengthAdjust="spacingAndGlyphs" fill="#1a1a1a">46.22</text>
<text x="690.6" y="366.6" font-size="20" textLength="21.4" lengthAdjust="spacingAndGlyphs" fill="#1a1a1a">LL</text>
<text x="690.8" y="391.4" font-size="20" textLength="51.6" lengthAdjust="spacingAndGlyphs" fill="#1a1a1a">35.40</text>
<text x="1138.5" y="366.6" font-size="20" textLength="24.6" lengthAdjust="spacingAndGlyphs" fill="#1a1a1a">LR</text>
<text x="1138.7" y="391.4" font-size="20" textLength="51.9" lengthAdjust="spacingAndGlyphs" fill="#1a1a1a">12.45</text>
<text x="665.4" y="55.2" class="tk" textLength="20.5" lengthAdjust="spacingAndGlyphs">10<tspan dy="-8" font-size="13">5</tspan></text>
<text x="665.4" y="98" class="tk" textLength="20.5" lengthAdjust="spacingAndGlyphs">10<tspan dy="-8" font-size="13">4</tspan></text>
<text x="665.4" y="197.8" class="tk" textLength="20.5" lengthAdjust="spacingAndGlyphs">10<tspan dy="-8" font-size="13">3</tspan></text>
<text x="665.4" y="303.2" class="tk" textLength="20.5" lengthAdjust="spacingAndGlyphs">10<tspan dy="-8" font-size="13">2</tspan></text>
<text x="675.6" y="363" class="tk" text-anchor="middle">0</text>
<text x="795.8" y="419.5" class="tk" textLength="20.5" lengthAdjust="spacingAndGlyphs">10<tspan dy="-8" font-size="13">2</tspan></text>
<text x="913.8" y="419.5" class="tk" textLength="20.5" lengthAdjust="spacingAndGlyphs">10<tspan dy="-8" font-size="13">3</tspan></text>
<text x="1026.8" y="419.5" class="tk" textLength="20.5" lengthAdjust="spacingAndGlyphs">10<tspan dy="-8" font-size="13">4</tspan></text>
<text x="1137.8" y="419.5" class="tk" textLength="20.5" lengthAdjust="spacingAndGlyphs">10<tspan dy="-8" font-size="13">5</tspan></text>
<text x="734.8" y="419.5" class="tk" text-anchor="middle">0</text>
<text x="917" y="441" font-size="19" textLength="59.5" lengthAdjust="spacingAndGlyphs" fill="#1a1a1a">FITC-A</text>
<text x="656.5" y="194" font-size="19" textLength="40.5" lengthAdjust="spacingAndGlyphs" fill="#1a1a1a" transform="rotate(-90 656.5 194)">PE-A</text>
<text x="624.6" y="32.6" font-size="30" textLength="37.2" lengthAdjust="spacingAndGlyphs" fill="#1d1a9c" class="se">(b)</text>
</g>
<g id="panel-c">
<path d="M1486.7 159.5h0M1451.9 175.3h0M1389.2 174.6h0M1479 169.1h0M1458.7 154.9h0M1427.8 167.4h0M1489.3 174.3h0M1508.3 176h0M1471 254.6h0M1491.8 162.3h0M1462.7 209.3h0M1547.4 172.9h0M1460.3 230.1h0M1434.5 171.9h0M1505.3 211.1h0M1473.7 215.2h0M1431.6 109.9h0M1481.1 216.5h0M1452.2 136.6h0M1471 182.6h0M1526.2 218.6h0M1477.8 235h0M1461.8 143.3h0M1493.4 211.2h0M1461.4 149.8h0M1497.6 207.1h0M1404.4 187.8h0M1431.4 219.1h0M1388.6 143.8h0M1498.4 237h0M1483.1 157.6h0M1533.6 131.4h0M1484.2 137.8h0M1526.2 184h0M1455.1 107.7h0M1537.3 218.9h0M1500.1 236.2h0M1484 156.2h0M1438 149h0M1524.8 119.3h0M1446.1 170.5h0M1479 210.9h0M1420 107.1h0M1469.8 239.6h0M1500.3 194.7h0M1457.3 198.2h0M1460.3 221.8h0M1438.2 191h0M1465.6 209.5h0M1529.9 252.4h0M1388.4 169.7h0M1445.7 209h0M1512.7 126.4h0M1430.9 148.9h0M1471.7 213.8h0M1551.9 176.1h0M1500.7 192h0M1540.4 218.4h0M1524.7 136.5h0M1462.3 148.4h0M1530.2 214.6h0M1457.8 164.6h0M1489.4 153.4h0M1432.8 206.7h0M1447.8 132.3h0M1416.6 208.6h0M1504 185.4h0M1483.3 190.2h0M1475.5 116.3h0M1451.7 190h0M1438.7 163.6h0M1437.2 170h0M1504.1 166.7h0M1463.8 221.6h0M1495.8 261.3h0M1386.4 223.6h0M1450.7 191.1h0M1503.5 233.7h0M1511.6 192h0M1534.4 172.3h0M1464.4 221h0M1468.9 167.8h0M1476.7 218.1h0M1446.5 202.1h0M1469.3 257.7h0M1443.5 232.1h0M1444.2 141.8h0M1441.6 131.4h0M1475.9 231.4h0M1476.6 213.1h0M1535.3 197.2h0M1477.8 172.6h0M1405.7 219.2h0M1399.7 214.4h0M1469.4 235.7h0M1467.3 148h0M1484.3 159.8h0M1462.8 186.9h0M1464.6 176.5h0M1436.7 176.5h0M1422.1 235.4h0M1520.8 97.2h0M1475.8 179.3h0M1428.1 208.9h0M1451.5 105.5h0M1459.3 178.3h0M1474.3 129.6h0M1494.6 218.1h0M1424.2 155.4h0M1466.8 159.5h0M1539.8 194.4h0M1429.6 149.5h0M1462.9 190.7h0M1490.6 183.2h0M1499.8 192.2h0M1494.8 132.1h0M1540.7 179.5h0M1471.4 142.9h0M1440.8 210.4h0M1509.5 218.9h0M1518.4 217.2h0M1471.1 222.6h0M1493.7 180.5h0M1499 242.9h0M1479.4 169h0M1498.7 270.5h0M1461.6 180.8h0M1464.5 240h0M1396.5 201.5h0M1517.7 148.4h0M1529.6 209.1h0M1448 194.2h0M1408.6 159.5h0M1543.1 144.8h0M1543.8 181.3h0M1509.8 187h0M1477.6 133.2h0M1416.1 201.5h0M1444 108.7h0M1442.6 223.7h0M1451.1 227.1h0M1531.1 186.5h0M1424.8 126.4h0M1468.9 224.6h0M1480.8 209.6h0M1452.3 198.5h0M1451.1 170.3h0M1418.3 114.3h0M1450.7 135.2h0M1431.7 215.2h0M1507.1 156.5h0M1501.1 201.1h0M1442.6 234.6h0M1501.8 157.2h0M1529.4 155.8h0M1422.7 254.7h0M1427 194.2h0M1528 190.2h0M1466.8 189.6h0M1503.6 148.7h0M1494.4 211h0M1433.4 218.1h0M1454.1 198h0M1475.3 237.6h0M1443.7 180.8h0M1531.5 154.3h0M1441.9 130.2h0M1493.2 193h0M1422.5 215h0M1480.4 218.9h0M1444.3 263.2h0M1486.4 179.7h0M1449.2 174h0M1504.4 172.9h0M1513.1 211.1h0M1523.9 221.6h0M1467.5 99.1h0M1481.9 220.5h0M1476.5 210h0M1451.1 167.9h0M1432.3 246.3h0M1476.3 162.8h0M1416.7 178.1h0M1527.7 205.8h0M1441 249.3h0M1527.1 229.1h0M1501.6 237h0M1491.7 219.9h0M1438.8 252.5h0M1479.2 276.1h0M1388.3 216.7h0M1509.3 169.6h0M1488.1 218.7h0M1493.1 160.7h0M1464.3 230.9h0M1521.1 189.5h0M1473.1 194h0M1511.5 137.6h0M1416.8 190.6h0M1425.7 158.6h0M1473.5 206.7h0M1427.1 221.1h0M1399.1 209.5h0M1406.9 127.6h0M1495.7 166.7h0M1438.2 165h0M1488.6 182.6h0M1468.8 232.5h0M1441.3 163.8h0M1449.1 237.6h0M1509.7 242.9h0M1468.6 177.9h0M1504.1 167.3h0M1503.2 217.6h0M1442.1 181.3h0M1465.2 263h0M1478.5 184.7h0M1427.1 220.4h0M1407.4 175.3h0M1475.6 128.8h0M1504.3 232.5h0M1414.5 121.6h0M1494.1 183.6h0M1421.5 171.7h0M1465.7 178.6h0M1503.1 202.3h0M1540.8 246.8h0M1497.1 233.5h0M1523 216.8h0M1421 223.7h0M1472.9 257.8h0M1473.7 208.7h0M1483.2 260.7h0M1477.1 172.9h0M1482.4 165.2h0M1476.5 184.7h0M1480.9 271.5h0M1453.8 186.7h0M1462 215.3h0M1422.7 153.8h0M1468.4 209.6h0M1468.1 162.5h0M1435.3 208h0M1527.7 199.5h0M1477.5 205h0M1432.3 171h0M1459.3 198.3h0M1468.7 130.3h0M1515 261.2h0M1459.5 202.9h0M1621.5 379.7h0M1624.5 181.1h0M1617.4 186.9h0M1622.3 241.1h0M1612.7 223.6h0M1630 387.9h0M1601.7 256.1h0M1588.5 234h0M1623.3 243.1h0M1601.5 137.4h0M1615.5 313.8h0M1618.9 270.4h0M1590.9 390.9h0M1609.2 238.4h0M1609 239.1h0M1615.6 357.8h0M1617.1 103.4h0M1604.9 266.4h0M1612.2 147.5h0M1585 293.9h0M1615.2 248.3h0M1584.1 391.9h0M1641.4 237.4h0M1613.5 155.7h0M1630.4 146.6h0M1613.8 260.8h0M1594.2 321h0M1588.8 195.3h0M1609.6 217h0M1617 323.9h0M1605.6 206.7h0M1602.2 220.8h0M1622.1 232.6h0M1616.1 242.7h0M1597.3 319.1h0M1594.4 250.5h0M1632.3 162.6h0M1609.2 123.2h0M1602.4 130.4h0M1604.6 206.9h0M1612 376.7h0M1614.2 302.7h0M1609.2 230.4h0M1597.5 105.9h0M1611 380.3h0M1617.1 207.3h0M1634.7 215.4h0M1600.7 153h0M1595.6 230.3h0M1640 233.5h0M1594.5 201.6h0M1606.7 113.1h0M1611.9 306.1h0M1614.8 298.1h0M1590.7 114.1h0M1629.3 337.5h0M1586.9 266.5h0M1610.4 293.6h0M1613.1 209.8h0M1612.9 262.6h0M1609.3 101.8h0M1585.5 270.2h0M1620.7 271h0M1604.5 255.6h0M1627.5 191.7h0M1623.8 306.6h0M1613.9 366.2h0M1599.2 325.4h0M1596.1 188.6h0M1594.1 285.7h0M1595.9 254.2h0M1592.9 335.3h0M1637.5 268.1h0M1634.7 294.9h0M1586.4 369.2h0M1608.1 167.1h0M1600.2 119.9h0M1607.5 164.3h0M1632.3 303.2h0M1585.1 129.3h0M1601.5 96h0M1608.4 246.5h0M1598.4 206.3h0M1617.5 363.7h0M1632.4 252.7h0M1622.8 190.9h0M1616.2 173.2h0M1620.9 150.9h0M1595.5 249.3h0M1618.4 134.9h0M1602 260.8h0M1613.4 182.9h0M1611.5 228.6h0M1631.1 294.6h0M1611.5 344.6h0M1612.6 320.6h0M1602.7 140.9h0M1621.2 257.9h0M1620.3 139.5h0M1612.7 200h0M1622.1 203.5h0M1600.9 203.1h0M1629 252.3h0M1598.6 168.2h0M1594.3 367h0M1582.8 182h0M1619.6 344.3h0M1607.8 312.8h0M1621.4 328.9h0M1610.7 382.4h0M1613.2 373.9h0M1593.8 326.8h0M1591.5 132h0M1617.9 186h0M1617.2 166.9h0M1634.6 253.6h0M1593.6 267.3h0M1623.9 191.8h0M1623.7 253.1h0M1409.9 292.4h0M1494.5 301.4h0M1398.5 299.7h0M1406.6 266.9h0M1477.8 269.7h0M1445.5 283.9h0M1396 280.7h0M1464.4 295.5h0M1514.8 286h0M1428.2 292.7h0M1419.7 262.9h0M1508.3 278.5h0M1457.1 297.1h0M1395.6 296.9h0M1473.5 283.6h0M1470.7 271.7h0M1405.4 301h0M1464.1 275.8h0M1453.3 309.7h0M1507.7 292h0M1472.4 280.3h0M1444.4 295.9h0M1444.9 290.7h0M1395.1 255.3h0M1365.9 277.4h0M1517.2 306.6h0M1400.9 257.3h0M1490.4 293.6h0M1382.3 304.3h0M1459.5 309.1h0M1467.9 301.3h0M1466.8 268.1h0M1439.1 273.1h0M1492.3 267.3h0M1374 297.5h0M1508 311.3h0M1505.3 258.1h0M1415.8 275.4h0M1450.1 290.2h0M1403 287.3h0M1510.2 286h0M1503.4 303.5h0M1471.1 292.1h0M1432 307.5h0M1427 272.7h0M1485.9 272.1h0M1471.9 304.2h0M1454.6 287.1h0M1496.5 298.8h0M1373.6 261.6h0M1517.2 292.3h0M1346.6 261h0M1452 267.6h0M1474.3 286.7h0M1475.4 264.3h0M1482 320.6h0M1411.2 309h0M1500.1 297h0M1447.8 264.5h0M1407.2 299.2h0M1500.1 307.4h0M1499.2 301.7h0M1429.4 263.7h0M1461.4 294.4h0M1455.5 258.1h0M1425.2 258.8h0M1458.5 266.5h0M1442.9 291.3h0M1458.1 310.1h0M1498.5 310.7h0M1522.9 290.6h0M1478.3 287.7h0M1386.7 275.2h0M1476.3 275.1h0M1546.9 257.8h0M1429.8 305.5h0M1421.1 265.2h0M1383.6 272.5h0M1527 292.9h0M1477.4 276.2h0M1493.8 287.5h0M1405.6 277.4h0M1461.8 306.7h0M1448.7 294.6h0M1552.6 271.2h0M1389.6 303.3h0M1473.6 283.8h0M1464.9 279.7h0M1477.5 279.6h0M1491.7 264.6h0M1410.9 287.7h0M1428.3 298.2h0M1449.7 275.9h0M1462.3 276.2h0M1374 265.2h0M1411.8 277.2h0M1456.8 302.1h0M1479.6 317.8h0M1515.8 282.4h0M1534.7 307h0M1429.5 291.4h0M1506.9 290.2h0M1503.1 292.9h0M1487.5 280.1h0M1471.3 279.3h0M1486.1 255.4h0M1469.1 308.4h0M1481.4 285.4h0M1479.3 270.6h0M1410.8 279.4h0M1445 303.2h0M1407.7 303.9h0M1373.7 271.7h0M1450.5 306.7h0M1421.7 247.3h0M1473.3 285.3h0M1398.2 267h0M1417.5 287.6h0M1485.5 259.2h0M1433.7 297.9h0" stroke="#9c3a36" stroke-width="1.7" stroke-linecap="round" fill="none"/>
<path d="M1407.8 190.9h0M1405.9 138.2h0M1373.9 232.8h0M1404 131.2h0M1357.9 176.5h0M1456.3 147.9h0M1453.2 157.6h0M1432.3 195.8h0M1446.8 159.5h0M1401.6 195.1h0M1336.2 182.3h0M1440.8 215.3h0M1408.6 168.5h0M1418.8 147.5h0M1398.4 190.8h0M1426.7 135.5h0M1456.5 154.8h0M1423.8 133.1h0M1404.8 191.7h0M1466.5 122.9h0M1458.3 168.3h0M1364.3 192.6h0M1392.1 163.2h0M1368.3 182.9h0M1411.2 167.7h0M1353.6 154.9h0M1432.2 222.9h0M1407.3 228h0M1408.2 132.8h0M1445.5 137.6h0M1432.2 214.9h0M1391 170.9h0M1424.2 203.9h0M1403.2 170.9h0M1346.5 194.8h0M1410.5 126.9h0M1421.2 131h0M1368.6 117.3h0M1361.1 189.4h0M1416.1 186.1h0M1370.7 163.7h0M1427.4 170.7h0M1423.2 190.7h0M1408.4 168.4h0M1363.7 142.2h0M1432.5 202.7h0M1361.2 198.2h0M1444.6 117.3h0M1455.4 196.4h0M1505.4 131.6h0M1334.9 204.1h0M1305.1 146.7h0M1345.9 136h0M1298.8 165.4h0M1434.9 160.9h0M1470 115.8h0M1429.3 131.3h0M1429.6 182.2h0M1344.3 181.4h0M1443.9 142.2h0M1370.5 132.8h0M1417.5 219.9h0M1435 174.9h0M1345.2 191.8h0M1396.2 102.9h0M1310.1 162.2h0M1358.3 237.5h0M1412.1 135.8h0M1381.9 235.3h0M1355.4 204.2h0M1435.5 230.7h0M1440.8 159.9h0M1440.7 177.7h0M1435.8 150.5h0M1417.8 176.4h0M1420.4 209.5h0M1379.6 143.4h0M1372.1 219.1h0M1389 205.3h0M1459.1 156.2h0M1397.7 180.6h0M1410.8 206.3h0M1399 240.9h0M1417 216.3h0M1386.6 166h0M1405.5 182.5h0M1392.1 176.7h0M1450.4 221.7h0M1418.1 200.7h0M1464.5 135.5h0M1321.1 237.3h0M1432.2 140.7h0M1332.1 188.2h0M1326.2 210.8h0M1372.7 187.2h0M1675.2 160.9h0M1638 231h0M1651.6 224.3h0M1687.4 180.3h0M1648.8 155.6h0M1655.6 110.9h0M1615.2 126.6h0M1643.7 202.5h0M1656.3 177.7h0M1619.1 82h0M1647.1 167.8h0M1645.8 225.5h0M1630.7 152.2h0M1634.5 128.1h0M1646.6 114.3h0M1620.7 249.6h0M1656.9 203h0M1656.8 190.2h0M1633.7 194.3h0M1629.6 145.3h0M1679 228h0M1623.4 159.5h0M1652.7 116.2h0M1685.1 114.1h0M1677.9 163.4h0M1680.9 115.6h0M1644.9 164.1h0M1641 254h0M1624.2 200.8h0M1673 185.7h0M1651.3 182.3h0M1610.1 171.6h0M1680.2 115.7h0M1637.6 198.1h0M1595.9 120.1h0M1621.5 147.9h0M1679.6 147.8h0M1604.4 131.8h0M1643.7 114.9h0M1623.4 138.9h0M1650.1 126.3h0M1647.7 175.7h0M1630.8 215.8h0M1635.6 107h0M1643.3 165.5h0M1633.9 170.5h0M1647.8 148.9h0M1671.7 157.5h0M1612.5 105h0M1649.8 193.5h0M1653 206.2h0M1658.3 135.9h0M1622.4 135.6h0M1643.5 96.8h0M1637.8 209.8h0M1640.8 202.5h0M1619.6 221.5h0M1612.9 244.8h0M1622.4 127.6h0M1609.9 141.3h0M1621.1 128.9h0M1625.7 189.8h0M1659.6 144.7h0M1669.5 115h0M1606.1 109h0M1651.8 90.1h0M1682.8 220.3h0M1658.1 164.1h0M1587.3 104.2h0M1593.7 92.1h0M1647.5 132.2h0M1650.9 130.5h0M1377 259.9h0M1509.9 237.1h0M1379.3 282.8h0M1290.9 259.7h0M1395.6 277.3h0M1361.8 259.4h0M1463.9 253.6h0M1348.5 303.4h0M1328.5 257.6h0M1325.8 252h0M1359.6 300h0M1404.3 259.5h0M1334.2 251.1h0M1473.1 234.2h0M1407.6 245.8h0M1314.2 244.7h0M1455.7 272.8h0M1311.4 286.2h0M1427.3 268.7h0M1427.4 282.3h0M1345.9 287.1h0M1348.1 275.1h0M1373.9 299.3h0M1354 267.2h0M1464.2 278.6h0M1385.3 269.2h0M1453.1 261h0M1414.3 258.2h0M1302 276.8h0M1300.1 242h0M1332.7 251.9h0M1447.1 244.7h0M1496.4 258.7h0M1393.8 287.2h0M1401.1 288.1h0M1371 239.9h0M1344.3 292.4h0M1371 261.6h0M1305.6 267.6h0M1372.4 241.8h0M1405.1 251.9h0M1399.7 264.3h0M1453.7 290.5h0M1385 271.2h0M1459.4 276.8h0M1271.3 284.7h0M1323 301.1h0M1351.9 271.8h0M1310.9 274.5h0M1299.3 265.6h0M1388.2 285.1h0M1400.3 246.1h0M1471.3 262.3h0M1317.6 285.4h0M1417.9 265.8h0M1384.7 248.1h0M1288.6 293h0M1482.2 283.6h0M1416.2 267.1h0M1380.9 256.3h0M1513.1 263.6h0M1418.7 275h0M1292 313.8h0M1363.7 259.6h0M1398 257h0M1392.1 255.8h0M1429.6 276.1h0M1294.2 295.8h0M1403.6 252.9h0M1415.3 283.7h0M1450.3 273.2h0M1433.6 269.9h0M1605.9 364.8h0M1629.4 299.1h0M1612.6 297h0M1628.8 291.2h0M1612.7 338.2h0M1634.2 371h0M1644.3 368.5h0M1636.5 360.2h0M1635.9 285.4h0M1600.8 257.5h0M1629.4 278.1h0M1640.6 321h0M1610.9 312.7h0M1635.2 229.2h0M1643.1 306.7h0M1629.4 248.1h0M1638.1 338.4h0M1625.7 267.8h0M1641.3 368.5h0M1634.1 357.5h0M1614.4 319.6h0M1633.7 319.3h0M1615.1 350.5h0M1604.7 330h0M1642 291.4h0M1620.2 271.5h0M1629.4 283.5h0M1661.5 343.3h0M1622.4 250.5h0M1636.5 323.5h0M1630.5 293.6h0M1664.7 323.9h0M1642.4 394.4h0M1636.1 359.5h0M1642.9 291.6h0M1643.1 336.8h0M1654.2 313.1h0M1622.2 291.3h0" stroke="#2e1c1c" stroke-width="1.8" stroke-linecap="round" fill="none"/>
<g filter="url(#sp)" clip-path="url(#cc)"><g>
<ellipse cx="1440" cy="185" rx="75" ry="55" fill-opacity="0.085" filter="url(#b12)"/>
<rect x="1462" y="120" width="44" height="118" fill-opacity="0.169" filter="url(#b8)"/>
<ellipse cx="1400" cy="275" rx="110" ry="25" transform="rotate(-4 1400 275)" fill-opacity="0.068" filter="url(#b10)"/>
<rect x="1506" y="240" width="96" height="150" fill-opacity="0.297" filter="url(#b8)"/>
<g opacity="0.254" filter="url(#b7)"><path d="M1533 238L1516 207L1525 185L1542.6 160.4L1567.6 137L1581.7 128L1597 133L1594 152.6L1589.6 176L1586.4 199.6L1577 238Z" stroke="#000" stroke-width="44" stroke-linejoin="round"/></g>
<g opacity="0.398" filter="url(#b4)"><path d="M1533 238L1516 207L1525 185L1542.6 160.4L1567.6 137L1581.7 128L1597 133L1594 152.6L1589.6 176L1586.4 199.6L1577 238Z" stroke="#000" stroke-width="20" stroke-linejoin="round"/></g>
<g opacity="0.254" filter="url(#b8)"><path d="M1255 323L1380 318L1460 312L1506 308L1530 309L1544 316L1544 365L1506 372L1400 375L1255 376Z" stroke="#000" stroke-width="44" stroke-linejoin="round"/></g>
<g opacity="0.546" filter="url(#b5)"><path d="M1255 323L1380 318L1460 312L1506 308L1530 309L1544 316L1544 365L1506 372L1400 375L1255 376Z" stroke="#000" stroke-width="22" stroke-linejoin="round"/></g>
<path d="M1538 240L1580 240L1578 368L1538 368Z" fill-opacity="0.616" filter="url(#b4)"/>
<path d="M1255 323L1380 318L1460 312L1506 308L1530 309L1544 316L1544 365L1506 372L1400 375L1255 376Z" filter="url(#b2)"/>
<path d="M1533 238L1516 207L1525 185L1542.6 160.4L1567.6 137L1581.7 128L1597 133L1594 152.6L1589.6 176L1586.4 199.6L1577 238Z" filter="url(#b2)"/>
</g></g>
<path d="M1264 297.7h-5M1264 265.9h-3M1264 247.3h-3M1264 234.1h-3M1264 223.8h-3M1264 215.4h-3M1264 208.4h-3M1264 202.2h-3M1264 196.8h-3M1264 192h-5M1264 162h-3M1264 144.5h-3M1264 132.1h-3M1264 122.5h-3M1264 114.6h-3M1264 107.9h-3M1264 102.1h-3M1264 97.1h-3M1264 92.5h-5M1264 79.6h-3M1264 72.1h-3M1264 66.7h-3M1264 62.6h-3M1264 59.2h-3M1264 56.3h-3M1264 53.8h-3M1264 51.7h-3M1264 49.7h-5M1264 357.5h-5M1264 381.4h-3M1264 375.4h-3M1264 369.5h-3M1264 363.5h-3M1264 351.5h-3M1264 345.5h-3M1264 339.6h-3M1264 333.6h-3M1264 327.6h-3M1264 321.6h-3M1264 315.6h-3M1264 309.7h-3M1264 303.7h-3" stroke="#3a3a3a" stroke-width="1" fill="none"/>
<line x1="1264" y1="397.5" x2="1766" y2="397.5" stroke="#555" stroke-width="1"/>
<path d="M1377.2 397.5v6M1412.6 397.5v4M1433.3 397.5v4M1448 397.5v4M1459.4 397.5v4M1468.7 397.5v4M1476.6 397.5v4M1483.4 397.5v4M1489.4 397.5v4M1494.8 397.5v6M1528.7 397.5v4M1548.5 397.5v4M1562.5 397.5v4M1573.4 397.5v4M1582.3 397.5v4M1589.9 397.5v4M1596.4 397.5v4M1602.2 397.5v4M1607.3 397.5v6M1640.7 397.5v4M1660.2 397.5v4M1674.1 397.5v4M1684.8 397.5v4M1693.6 397.5v4M1701 397.5v4M1707.5 397.5v4M1713.1 397.5v4M1718.2 397.5v6M1751.6 397.5v4M1310 397.5v6M1283.1 397.5v4M1289.8 397.5v4M1296.6 397.5v4M1303.3 397.5v4M1316.7 397.5v4M1323.4 397.5v4M1330.2 397.5v4M1336.9 397.5v4M1343.6 397.5v4M1350.3 397.5v4M1357 397.5v4M1363.8 397.5v4M1370.5 397.5v4" stroke="#555" stroke-width="1" fill="none"/>
<line x1="1505.4" y1="6.3" x2="1505.4" y2="397" stroke="#111" stroke-width="2"/>
<line x1="1264" y1="238.6" x2="1766" y2="238.6" stroke="#111" stroke-width="2"/>
<text x="1266.9" y="25.5" font-size="20" textLength="24.6" lengthAdjust="spacingAndGlyphs" fill="#1a1a1a">UL</text>
<text x="1267.1" y="50.8" font-size="20" textLength="37.6" lengthAdjust="spacingAndGlyphs" fill="#1a1a1a">1.21</text>
<text x="1711.8" y="24.7" font-size="20" textLength="26.6" lengthAdjust="spacingAndGlyphs" fill="#1a1a1a">UR</text>
<text x="1712" y="50.6" font-size="20" textLength="51.1" lengthAdjust="spacingAndGlyphs" fill="#1a1a1a">22.44</text>
<text x="1266.9" y="367" font-size="20" textLength="21.4" lengthAdjust="spacingAndGlyphs" fill="#1a1a1a">LL</text>
<text x="1267.1" y="391.4" font-size="20" textLength="50.6" lengthAdjust="spacingAndGlyphs" fill="#1a1a1a">59.79</text>
<text x="1711.8" y="366.6" font-size="20" textLength="24.6" lengthAdjust="spacingAndGlyphs" fill="#1a1a1a">LR</text>
<text x="1712" y="391.5" font-size="20" textLength="51.6" lengthAdjust="spacingAndGlyphs" fill="#1a1a1a">16.55</text>
<text x="1240.6" y="55.2" class="tk" textLength="20.5" lengthAdjust="spacingAndGlyphs">10<tspan dy="-8" font-size="13">5</tspan></text>
<text x="1240.6" y="98" class="tk" textLength="20.5" lengthAdjust="spacingAndGlyphs">10<tspan dy="-8" font-size="13">4</tspan></text>
<text x="1240.6" y="197.5" class="tk" textLength="20.5" lengthAdjust="spacingAndGlyphs">10<tspan dy="-8" font-size="13">3</tspan></text>
<text x="1240.6" y="303.2" class="tk" textLength="20.5" lengthAdjust="spacingAndGlyphs">10<tspan dy="-8" font-size="13">2</tspan></text>
<text x="1250.8" y="363" class="tk" text-anchor="middle">0</text>
<text x="1371.5" y="419.5" class="tk" textLength="20.5" lengthAdjust="spacingAndGlyphs">10<tspan dy="-8" font-size="13">2</tspan></text>
<text x="1489.1" y="419.5" class="tk" textLength="20.5" lengthAdjust="spacingAndGlyphs">10<tspan dy="-8" font-size="13">3</tspan></text>
<text x="1601.6" y="419.5" class="tk" textLength="20.5" lengthAdjust="spacingAndGlyphs">10<tspan dy="-8" font-size="13">4</tspan></text>
<text x="1712.5" y="419.5" class="tk" textLength="20.5" lengthAdjust="spacingAndGlyphs">10<tspan dy="-8" font-size="13">5</tspan></text>
<text x="1310" y="419.5" class="tk" text-anchor="middle">0</text>
<text x="1491.6" y="441" font-size="19" textLength="60" lengthAdjust="spacingAndGlyphs" fill="#1a1a1a">FITC-A</text>
<text x="1231.5" y="194" font-size="19" textLength="40.5" lengthAdjust="spacingAndGlyphs" fill="#1a1a1a" transform="rotate(-90 1231.5 194)">PE-A</text>
<text x="1200.6" y="32.6" font-size="30" textLength="33.4" lengthAdjust="spacingAndGlyphs" fill="#1d1a9c" class="se">(c)</text>
</g>
<g id="panel-d">
<path d="M257.4 710.1h0M373.2 733.5h0M207.9 714.9h0M258.8 719.2h0M209.6 721.8h0M301.8 759.1h0M305.8 729.3h0M194.2 745.9h0M273.5 690.3h0M257.2 696.2h0M309 711.9h0M364.1 663.8h0M289.8 690h0M272.8 720.9h0M215.8 742.6h0M298.9 743.2h0M338 687.6h0M250.1 709.3h0M327.4 738.8h0M254.5 698h0M250.1 698.6h0M278.1 711.3h0M392.9 700.8h0M275.6 727.8h0M242.3 704.7h0M290.7 736.7h0M224.2 753.4h0M272.4 719.7h0M332.4 733.5h0M343 719.8h0M289 723.9h0M240.2 749h0M251.2 679.7h0M392.8 711.2h0M231 766.9h0M273.5 744.7h0M248.5 708h0M205.6 661.5h0M241.2 712.8h0M238.4 743.3h0M259.8 710.7h0M215.9 673.6h0M251.1 681.6h0M289.8 695.3h0M352.5 719.3h0M298.3 746.8h0M315.9 714h0M285.5 711.6h0M343.8 736.9h0M308.3 737.4h0M262.8 729.3h0M219.4 752.7h0M294.5 720.1h0M320 714.7h0M277.3 748.3h0M295.8 689.4h0M312 667.3h0M372.8 710.2h0M321.2 745.5h0M374.1 711.3h0M296.8 749.3h0M303.5 736.1h0M320.5 683.2h0M277 752.5h0M234.5 749.5h0M340 713.5h0M289.6 717.3h0M246.9 707.1h0M287.7 732.1h0M329.6 694.2h0M331.3 693.2h0M281.6 725.3h0M288.9 711.4h0M303.5 699.5h0M257.4 709.3h0M338.1 712.2h0M385.2 721h0M373.3 715.2h0M268.1 690.5h0M356.2 743.1h0M323.6 727h0M362 738h0M228.5 736.5h0M298.5 711.9h0M328.2 715.8h0M341.9 711.6h0M271.4 721.3h0M225.8 723.6h0M278.5 705.1h0M243.8 696h0M345.3 752.4h0M315.1 713.7h0M246.1 735.1h0M370.5 669.8h0M273 725.8h0M221.8 672.5h0M299.3 739.5h0M266.2 752.6h0M251 764.1h0M296 721.6h0M320.7 724h0M317.3 710.4h0M231.2 693.9h0M290.5 712.2h0M287.8 715.1h0M314.8 677.2h0M238.7 746.4h0M331.9 700h0M354.8 696.1h0M277.4 663.9h0M332.4 714.8h0M343.5 734.9h0M295 719.6h0M350.1 710.7h0M282.9 717.2h0M330.9 741.3h0M386.7 713.3h0M354.4 697.5h0M321.8 719.5h0M378.6 733.2h0M269.6 732.4h0M309.5 707.4h0M277.5 689.9h0M341.1 683.7h0M238.2 712.1h0M285 738.9h0M242.3 731.5h0M368.3 690.8h0M338 689.5h0M309.8 726.6h0M379.4 697.1h0M301 745.6h0M233.9 716.2h0M249 696.8h0M326.6 736h0M357 711.7h0M277.5 720.2h0M258.8 686.6h0M269.3 740.7h0M354.2 705.5h0M313.7 714.4h0M241.9 720.7h0M293 672.8h0M346.5 671.8h0M303.1 686.3h0M250.6 696h0M326.5 680.5h0M281.6 759.1h0M256.3 714.7h0M324.2 699.2h0M314.7 697h0M325.9 717.2h0M244 754.9h0M286.1 707.6h0M244.6 702.3h0M286 720.2h0M345.7 678.5h0M273.3 748.9h0M299.8 726.8h0M370.3 724.8h0M314 714.2h0M379 744.8h0M254.6 730.7h0M233.2 745.8h0M324.1 710.8h0M270.4 665h0M328.5 711.9h0M274.7 735.4h0M257 698.7h0M255.4 677.2h0M272.5 740.2h0M290.5 687.7h0M312.7 658h0M289.5 739.1h0M279.4 712.6h0M253.5 722.5h0M296.9 674h0M278.8 675.6h0M333.7 706.9h0M379.7 669.3h0M263.7 719.7h0M274.2 724.2h0M288.8 693.1h0M368 732h0M351.2 694.4h0M273.1 686.4h0M302.6 712.9h0M306 760.7h0M241.8 732.1h0M213.6 742.4h0M261.7 709.5h0M290.7 757.7h0M282.3 697.7h0M224.7 719.3h0M241.2 697.5h0M282.6 730.4h0M248.2 730.4h0M372.5 669.9h0M352.1 771.9h0M254.4 728.8h0M368.7 744.9h0M387.9 718.3h0M372.2 724.4h0M369.5 783h0M394.4 746.6h0M379.4 831.2h0M364.6 786.6h0M382.2 784.9h0M365 800.6h0M376.9 716.4h0M394.4 802.7h0M399.5 871h0M379.2 707.4h0M372.1 844.7h0M381 775.2h0M365.2 833.2h0M372.6 808.1h0M382.4 874h0M378.1 805h0M350.5 847.7h0M388 791.4h0M383.8 831.8h0M387.1 858.8h0M359.7 749.4h0M359 777.6h0M370.6 796.9h0M361.1 796.4h0M398.4 731.6h0M388.9 822h0M353.9 822h0M374.2 808.9h0M363.5 788.4h0M381.2 782.3h0M366.9 783.5h0M361.7 808.5h0M376.3 815.1h0M387.4 729.1h0M381.9 807.6h0M393.8 790.8h0M355.6 807.4h0M368.8 869.2h0M371.3 768.4h0M364.6 748h0M367.5 820.8h0M356.7 780.2h0M354.6 782.2h0M377.4 728.7h0M367.1 795.6h0M385.9 837.9h0M373.5 740h0M352.2 829.1h0M394.6 808.3h0M397 767.2h0M369.5 868.7h0M360.8 820.3h0M380.4 797.6h0M399.3 745.9h0M369 685.1h0M360.3 764.2h0M369.5 779.7h0M379.2 756.4h0M347.1 797.6h0M380.9 731.6h0M363.9 878.4h0M389.4 844.6h0M384.4 797.3h0M367.8 818.7h0M372.2 767.8h0M374.8 785.9h0M387.5 741.7h0M369 837.4h0M363.2 765.7h0M367.8 741.4h0M371.5 815.1h0M384 865.6h0M395.3 842h0M374.5 842.6h0M361 785.2h0M395.3 829.9h0M355.3 760.3h0M387.8 821.3h0M390.3 701.2h0M357.2 777.7h0M361.4 788.9h0M375.3 808.1h0M373.3 819.1h0M386.2 798.6h0M358 856h0M378.3 812.3h0M377.7 709.9h0M383.4 758h0M358.1 855.7h0M371 805.5h0M387.8 872.5h0M349.7 753.5h0M384.8 757.2h0M378.4 830.9h0M378.5 768.7h0M378.3 789.1h0M368.1 803.8h0M380.3 739.9h0M389.7 832.6h0M376.9 784.6h0M361.1 820.1h0M354 852.8h0M380.7 765.3h0M395.3 814h0M379.9 725.2h0M382.6 861.6h0M390.7 725.6h0M394.8 871.2h0M387.1 771h0M353.9 744.4h0M366.9 803.8h0M382.8 752.4h0M351.8 768.7h0M356.1 856.3h0M357.4 813.1h0M386.3 739.2h0M388.7 781.2h0" stroke="#9c3a36" stroke-width="1.7" stroke-linecap="round" fill="none"/>
<path d="M277.1 710.7h0M265.6 692.3h0M245.1 693.5h0M226.1 737.4h0M159.6 708.4h0M172.4 687.1h0M294.4 694.8h0M324 677.8h0M238.2 685.5h0M253.1 693.2h0M232.8 703h0M306.9 704.3h0M253.5 692.9h0M214.5 663.5h0M196.8 700.4h0M227.3 675.6h0M220.7 715.5h0M266.5 705.7h0M185.4 722.4h0M212.7 666.3h0M225.8 727h0M238.1 690.2h0M252.5 749.1h0M282.2 685.9h0M204 694h0M268 728.5h0M302.5 708h0M201.4 728.6h0M265 677.7h0M198 710.5h0M277.2 725.2h0M198.1 752.9h0M167.7 703.5h0M326.5 730.7h0M210.6 719.7h0M208.9 746.2h0M176.1 705.1h0M203.8 693h0M240.7 716.2h0M193.4 709h0M284.2 714.2h0M219.2 694h0M259.1 715.4h0M233.1 692.4h0M158.2 703.6h0M282.3 708.6h0M218.2 673.9h0M215 707.3h0M245 721.2h0M300.1 695h0M294.8 734h0M239.2 661.2h0M249.8 690.6h0M269.5 724.7h0M308.4 655.9h0M292.4 693h0M200.6 690.6h0M191.2 703.8h0M306 724.4h0M260.5 732.1h0M284.7 689.1h0M243.7 684.9h0M243.6 700.5h0M293.2 724h0M261.1 715h0M220.9 690.2h0M189.5 705.8h0M241.4 664h0M271.5 704.4h0M255.3 667.8h0M292.6 697.2h0M285.5 696.5h0M207.1 668.6h0M233.8 712.1h0M256.5 716.7h0M264.3 673.1h0M314.2 721.7h0M304.6 681.5h0M261.8 704.4h0M320.7 670.3h0M295.5 738h0M240.1 685h0M319.6 725.2h0M316.7 701.5h0M227.4 722h0M235.6 747.9h0M250 727.5h0M279.4 706h0M215.4 744h0M215.8 666.2h0M403.7 720h0M409 692.3h0M408 683h0M408.2 668.2h0M392.4 655.1h0M412.2 716h0M415.3 665.8h0M401.1 729.8h0M398.1 720.8h0M394.3 651.4h0M418.8 674.8h0M408.2 728.5h0M380.5 658.9h0M392.1 664.3h0M409.6 670.4h0M406.3 651.2h0M368.5 641.6h0M410.7 694.4h0M415.7 651.6h0M396.1 709.3h0M406.5 649.2h0M397.8 716h0M397.1 724.1h0M385.5 646.2h0M399.2 656.8h0M314.7 884.1h0M174.1 798.7h0M199.9 773.3h0M153.6 827.9h0M235.3 881.6h0M261.5 893.6h0M127 756.7h0M303.3 885.4h0M144.6 806.9h0M275.9 728.1h0M142.6 796.7h0M165 781h0M151.2 824.2h0M194.4 781.4h0M145.5 860.6h0M179.8 722.3h0M205.7 891h0M155.9 813.1h0M224.7 757.8h0M166.7 779.7h0M240.3 880.2h0M216.5 750h0M229.1 757h0M170.8 798.1h0M163.3 785.6h0M191.9 888.6h0M203.5 761.8h0M219 733h0M156.6 872h0M299.5 885h0M202.6 773.7h0M232.5 740.8h0M226.8 883h0M317.4 832.3h0M127.8 763h0M406.5 723.8h0M384.3 784.2h0M378.5 821.3h0M370 808.6h0M409 833.1h0M406.4 851.2h0M363.7 891.3h0M397.7 842h0M380.8 790.1h0M371.6 806.4h0M387.5 806.2h0M383.9 727.5h0M375.6 778.1h0M390 792.9h0M379.7 816.6h0M379.3 800.1h0M400.8 805.3h0M373.4 838.6h0M396.7 839.9h0M367.7 853.7h0M386.4 818.1h0M386.9 832.6h0M392.4 877.1h0M389.2 809h0M394.6 808.1h0M400.7 819.7h0M396 790.4h0M399.4 840.2h0M374.4 796.6h0M387.1 755.4h0M371.2 834.1h0M392.7 871.4h0M358.4 888.8h0M411.9 874.6h0M391.8 767.3h0M389.2 839.8h0M394.1 719.3h0M410.4 741.8h0M382.6 873.9h0M390.8 809.9h0M377.2 836.6h0M404.2 787.5h0M391.2 795.3h0M389 852.7h0M383.6 857.8h0M388.1 865.8h0M387.8 796.9h0M441 800h0M473 800h0M462 821h0M450 834h0" stroke="#2e1c1c" stroke-width="1.8" stroke-linecap="round" fill="none"/>
<g filter="url(#sp)" clip-path="url(#cd)"><g>
<ellipse cx="265" cy="700" rx="85" ry="32" transform="rotate(-8 265 700)" fill-opacity="0.068" filter="url(#b10)"/>
<ellipse cx="345" cy="805" rx="22" ry="65" transform="rotate(5 345 805)" fill-opacity="0.297" filter="url(#b8)"/>
<ellipse cx="375" cy="790" rx="15" ry="55" transform="rotate(5 375 790)" fill-opacity="0.127" filter="url(#b8)"/>
<ellipse cx="360" cy="700" rx="50" ry="32" transform="rotate(-25 360 700)" fill-opacity="0.254" filter="url(#b8)"/>
<g opacity="0.254" filter="url(#b8)"><path d="M161 829L191 819L240 800L289 765L311 755L323 765L321 787L311 811.5L296.4 836L276.8 848L252 858L191 858L166.7 845.7Z" stroke="#000" stroke-width="48" stroke-linejoin="round"/></g>
<g opacity="0.432" filter="url(#b5)"><path d="M161 829L191 819L240 800L289 765L311 755L323 765L321 787L311 811.5L296.4 836L276.8 848L252 858L191 858L166.7 845.7Z" stroke="#000" stroke-width="20" stroke-linejoin="round"/></g>
<path d="M161 829L191 819L240 800L289 765L311 755L323 765L321 787L311 811.5L296.4 836L276.8 848L252 858L191 858L166.7 845.7Z" fill-opacity="0.401" filter="url(#b3)"/>
<path d="M220.5 826L240 801.7L264.6 782L289 765L311 755L323 765L321 787L311 811.5L296.4 836L276.8 848L252 858L232.8 853L218 843Z" fill-opacity="0.9" filter="url(#b2)"/>
<ellipse cx="350" cy="713.6" rx="19" ry="10.5" filter="url(#b3)"/>
<ellipse cx="374.7" cy="686.7" rx="23" ry="8.5" transform="rotate(-15 374.7 686.7)" filter="url(#b3)"/>
</g></g>
<line x1="117.8" y1="494" x2="117.8" y2="899.4" stroke="#555" stroke-width="1"/>
<path d="M117.8 802h-5M117.8 770h-3M117.8 751.3h-3M117.8 738.1h-3M117.8 727.8h-3M117.8 719.4h-3M117.8 712.3h-3M117.8 706.1h-3M117.8 700.7h-3M117.8 695.8h-5M117.8 666h-3M117.8 648.5h-3M117.8 636.1h-3M117.8 626.5h-3M117.8 618.7h-3M117.8 612.1h-3M117.8 606.3h-3M117.8 601.2h-3M117.8 596.7h-5M117.8 579h-3M117.8 568.7h-3M117.8 561.4h-3M117.8 555.7h-3M117.8 551h-3M117.8 547.1h-3M117.8 543.7h-3M117.8 540.7h-3M117.8 538h-5M117.8 860.6h-5M117.8 884h-3M117.8 878.2h-3M117.8 872.3h-3M117.8 866.5h-3M117.8 854.7h-3M117.8 848.9h-3M117.8 843h-3M117.8 837.2h-3M117.8 831.3h-3M117.8 825.4h-3M117.8 819.6h-3M117.8 813.7h-3M117.8 807.9h-3" stroke="#555" stroke-width="1" fill="none"/>
<line x1="118" y1="899.4" x2="618" y2="899.4" stroke="#555" stroke-width="1"/>
<path d="M229.1 899.4v6M264.6 899.4v4M285.3 899.4v4M300 899.4v4M311.4 899.4v4M320.8 899.4v4M328.7 899.4v4M335.5 899.4v4M341.5 899.4v4M346.9 899.4v6M381 899.4v4M401 899.4v4M415.1 899.4v4M426.1 899.4v4M435.1 899.4v4M442.6 899.4v4M449.2 899.4v4M455 899.4v4M460.2 899.4v6M493.8 899.4v4M513.5 899.4v4M527.5 899.4v4M538.3 899.4v4M547.1 899.4v4M554.6 899.4v4M561.1 899.4v4M566.8 899.4v4M571.9 899.4v6M605.5 899.4v4M161.5 899.4v6M134.5 899.4v4M141.2 899.4v4M148 899.4v4M154.7 899.4v4M168.3 899.4v4M175 899.4v4M181.8 899.4v4M188.5 899.4v4M195.3 899.4v4M202.1 899.4v4M208.8 899.4v4M215.6 899.4v4M222.3 899.4v4" stroke="#555" stroke-width="1" fill="none"/>
<line x1="357" y1="494" x2="357" y2="899.4" stroke="#111" stroke-width="2"/>
<line x1="118" y1="741.4" x2="618.3" y2="741.4" stroke="#111" stroke-width="2"/>
<text x="120.2" y="515" font-size="20" textLength="24.6" lengthAdjust="spacingAndGlyphs" fill="#1a1a1a">UL</text>
<text x="120.4" y="539" font-size="20" textLength="37.6" lengthAdjust="spacingAndGlyphs" fill="#1a1a1a">6.47</text>
<text x="577.2" y="514" font-size="20" textLength="26.6" lengthAdjust="spacingAndGlyphs" fill="#1a1a1a">UR</text>
<text x="577.4" y="538.5" font-size="20" textLength="39.6" lengthAdjust="spacingAndGlyphs" fill="#1a1a1a">6.34</text>
<text x="120.2" y="869.6" font-size="20" textLength="21.4" lengthAdjust="spacingAndGlyphs" fill="#1a1a1a">LL</text>
<text x="120.4" y="894.4" font-size="20" textLength="48.6" lengthAdjust="spacingAndGlyphs" fill="#1a1a1a">84.81</text>
<text x="577.2" y="869.6" font-size="20" textLength="24.6" lengthAdjust="spacingAndGlyphs" fill="#1a1a1a">LR</text>
<text x="577.4" y="894.4" font-size="20" textLength="40.1" lengthAdjust="spacingAndGlyphs" fill="#1a1a1a">2.38</text>
<text x="92.8" y="543.5" class="tk" textLength="20.5" lengthAdjust="spacingAndGlyphs">10<tspan dy="-8" font-size="13">5</tspan></text>
<text x="92.8" y="602.2" class="tk" textLength="20.5" lengthAdjust="spacingAndGlyphs">10<tspan dy="-8" font-size="13">4</tspan></text>
<text x="92.8" y="701.3" class="tk" textLength="20.5" lengthAdjust="spacingAndGlyphs">10<tspan dy="-8" font-size="13">3</tspan></text>
<text x="92.8" y="807.5" class="tk" textLength="20.5" lengthAdjust="spacingAndGlyphs">10<tspan dy="-8" font-size="13">2</tspan></text>
<text x="104.3" y="866.1" class="tk" text-anchor="middle">0</text>
<text x="223.4" y="921.5" class="tk" textLength="20.5" lengthAdjust="spacingAndGlyphs">10<tspan dy="-8" font-size="13">2</tspan></text>
<text x="341.2" y="921.5" class="tk" textLength="20.5" lengthAdjust="spacingAndGlyphs">10<tspan dy="-8" font-size="13">3</tspan></text>
<text x="454.5" y="921.5" class="tk" textLength="20.5" lengthAdjust="spacingAndGlyphs">10<tspan dy="-8" font-size="13">4</tspan></text>
<text x="566.2" y="921.5" class="tk" textLength="20.5" lengthAdjust="spacingAndGlyphs">10<tspan dy="-8" font-size="13">5</tspan></text>
<text x="161.5" y="921.5" class="tk" text-anchor="middle">0</text>
<text x="344.3" y="945" font-size="19" textLength="59.5" lengthAdjust="spacingAndGlyphs" fill="#1a1a1a">FITC-A</text>
<text x="85" y="696.6" font-size="19" textLength="41.6" lengthAdjust="spacingAndGlyphs" fill="#1a1a1a" transform="rotate(-90 85 696.6)">PE-A</text>
<text x="55.6" y="517" font-size="30" textLength="37.2" lengthAdjust="spacingAndGlyphs" fill="#1d1a9c" class="se">(d)</text>
<text x="310.8" y="481.6" font-size="24" textLength="112.2" lengthAdjust="spacingAndGlyphs" fill="#1a1a1a" style="white-space:pre">XU  12 - P1</text>
<rect x="67.7" y="460" width="25.3" height="30" fill="#fefefe" stroke="#9a9a9a" stroke-width="0.9"/>
<text x="79.9" y="482.7" font-size="19.5" font-weight="bold" text-anchor="middle" fill="#2a68ad" textLength="15.6" lengthAdjust="spacingAndGlyphs">M</text>
</g>
<g id="panel-e">
<path d="M795.8 780.4h0M840.1 858.9h0M950.9 844.9h0M815.8 804.7h0M881.8 784.5h0M876.2 762.1h0M853.3 787.7h0M809.7 818h0M802.9 864.9h0M855 813.5h0M892.8 877.3h0M728.6 828.4h0M781.5 832.2h0M756.8 840.9h0M857 826.3h0M776.2 822.2h0M772.7 779h0M878 790.1h0M953.6 872.2h0M700.2 852.2h0M771.9 841.5h0M863.5 750.5h0M841.3 828.5h0M937 786.8h0M919 790.5h0M833.5 802.2h0M975.9 865.6h0M927.6 877.8h0M811.5 836.8h0M968 822.2h0M875.1 839h0M908.7 823.6h0M847.8 850.9h0M868.2 801.1h0M931.7 781.6h0M763.9 782.3h0M937.4 823.8h0M782.3 788.9h0M893.7 792.5h0M758.2 867.6h0M764.3 825.5h0M859.5 820h0M855.7 900.2h0M818.6 783.3h0M713.1 830.8h0M831.8 851.9h0M822.9 818.5h0M802.3 816.6h0M872.8 822.9h0M898.3 769.1h0M998.7 855.7h0M784.7 880.8h0M861.4 812.3h0M809.3 795.3h0M863.8 888.1h0M834 858.9h0M1010.1 785.3h0M880.6 826.2h0M775.3 793.8h0M858.8 859.5h0M817.5 842.4h0M917.8 853.3h0M929.5 860.8h0M909.9 845.8h0M916.8 798.6h0M833 875.7h0M910.5 909.7h0M860.8 774.2h0M1015.8 889.2h0M775.3 901.9h0M862.6 758.4h0M826.4 817.1h0M987.3 804.4h0M839.7 827.5h0M829.7 798.9h0M877.5 888.5h0M909.9 798.3h0M768 845.4h0M803.5 811.6h0M933.3 796.2h0M932.7 900.4h0M829 869.2h0M850.3 829.6h0M781.6 814.2h0M862.9 861.7h0M942.3 857.6h0M790.2 862.8h0M858.8 779.8h0M776.4 905.3h0M813.5 840h0M955.1 794.3h0M913.3 875.8h0M804 831.6h0M928.4 854.9h0M951.1 833.7h0M852.4 801.3h0M860.4 836.3h0M961.7 899.4h0M845.1 892.6h0M767.3 887.5h0M839.4 790.6h0M830.1 815.6h0M918 860.4h0M837.6 810.1h0M855.7 899.6h0M887.9 868.8h0M847.9 781.9h0M803.1 869.3h0M868.3 799.3h0M730.6 845h0M832.8 824.2h0M833.6 852.8h0M883.6 883.3h0M934.3 899.9h0M924.5 824.9h0M855.7 862.2h0M835.2 864.7h0M952.3 803.9h0M718.4 893.7h0M861.4 871.9h0M919.1 834.3h0M831.8 845.1h0M846.7 827.5h0M770.4 896.8h0M856.8 843.4h0M902.2 825.2h0M836.9 843.1h0M782.2 878h0M804.3 799.3h0M791 847.1h0M919.7 813.2h0M739.2 887.8h0M774.8 893.8h0M855.7 808.6h0M808.8 860.8h0M931.1 831.1h0M843.3 788.3h0M775.6 777.4h0M808.8 807.4h0M754 863.9h0M1021.2 886.7h0M901.8 860.6h0M1001.7 864.1h0M866.2 784.6h0M854.1 807h0M803.5 807.9h0M856.4 825.2h0M929.7 780.3h0M863.1 893.9h0M950.9 899.2h0M919 777.9h0M838.6 822.9h0M736.1 819.1h0M760 765.1h0M876.9 838h0M805 797.2h0M816.7 822.3h0M827.4 837.6h0M825.2 857.4h0M901.8 856.1h0M807 812.3h0M894.8 831.1h0M886.4 902.7h0M917.7 850h0M861.3 775.8h0M930.7 812.8h0M900.2 849h0M881.8 880.2h0M820.8 822.6h0M791.5 823h0M993.3 823.7h0M954.8 877.2h0M918.3 876.1h0M778.9 856.8h0M987.1 808.7h0M856.2 809h0M885.4 791.5h0M988.8 823h0M937.6 863.3h0M902.6 823.9h0M842.1 872.6h0M933.4 882h0M877 819h0M844.6 889.9h0M975.2 824.6h0M821.8 896.1h0M917.9 871.4h0M755 823.2h0M818.8 849.4h0M725.2 897.2h0M884 859.6h0M765.3 838.8h0M966.8 769.4h0M884.5 871.4h0M804.6 876.7h0M833.6 895.3h0M902.2 850.1h0M1020.7 877.4h0M964.7 786.5h0M808.3 877.6h0M932.4 837.5h0M922.4 792.4h0M877.1 788.4h0M887.2 818.1h0M808.7 842.5h0M1005.4 794.5h0M811.9 888h0M877.8 844.1h0M912.4 863.3h0M880.1 769.7h0M789.2 906.8h0M925.8 862.8h0M911 815.5h0M887 799.5h0M891.3 807.9h0M842.9 860.4h0M833.9 869.1h0M896.5 856.2h0M966 773.7h0M732.3 867.7h0M920.5 877.4h0M789.4 873.9h0M913.9 792.5h0M788.3 835h0M865.6 850.4h0M845.9 852h0M896.5 794.5h0M893.3 828.7h0M784.3 849.4h0M979 774.3h0M727.8 765.6h0M1018.2 828.7h0M855.2 804.6h0M784.8 748.8h0M873.6 851.7h0M701.9 793.1h0M800.5 838.8h0M879.5 890.7h0M969.2 888.1h0M967.3 787.5h0M815.6 891.5h0M883.1 840.8h0M701.7 756.3h0M918.5 855.4h0M836.3 821.4h0M721.9 856.7h0M863.9 830.8h0M772.3 895h0M996.5 812.4h0M883.3 844.1h0M830.7 867.3h0M744.5 802.3h0M900 842h0M838.4 811.3h0M853.7 826h0M840.1 838.5h0M870.1 909.7h0M744 851.8h0M810 788.7h0M780.8 805.8h0M896.8 790.8h0M861.3 836.2h0M923.3 885h0M789.9 880.8h0M851.5 845.1h0M842.2 874.4h0M762.2 851.3h0M953.3 826.8h0M1021.4 806.4h0M876.3 817.8h0M809.7 789.3h0M816 837.2h0M795 879.3h0M980.8 770.7h0M926 848h0M955.5 854.6h0M921.8 806.3h0M874.1 844.4h0M938.7 897.3h0M841.2 860.5h0M921.5 775.2h0M1023.3 807.8h0M976.8 831.4h0M962.8 843.4h0M992.4 810.9h0M962.1 882h0M1008.3 895.3h0M970 902.7h0M1002.2 830.3h0M980.4 850.9h0M1008.6 886.3h0M1001.9 814.7h0M1005.6 845.7h0M975.3 765.6h0M971.5 851.8h0M1020.8 881.2h0M962.1 811.7h0M989 830.6h0M989.2 879h0M991.9 796.9h0M944.4 815.4h0M949.5 824.3h0M993 758.5h0M982.5 812h0M1026.9 854.7h0M943.2 853.1h0M993.5 817.1h0M975.9 860.5h0M998.5 851h0M961.9 812.7h0M949.2 743.8h0M971 767.7h0M993.9 776.1h0M998.3 796.9h0M988.2 829.6h0M989.9 808.5h0M964.1 811.4h0M1007.4 808.4h0M952.2 754.7h0M959.7 824.1h0M993 850.3h0M1008.8 813.1h0M1001.3 843h0M998.7 724.6h0M1010.9 741.7h0M959 870.1h0M987.8 771.8h0M987.8 806.6h0M1000.8 806.8h0M986.5 886.9h0M967.1 785.6h0M1003.5 869.9h0M979.7 814.7h0M941.9 894.6h0M982.2 751h0M960 780.5h0M1022.3 867.7h0M1014.4 771.6h0M971.7 822.5h0M973.5 899.3h0M1017.5 874.6h0M981.7 844.4h0M998.7 743.4h0M1012.4 812.5h0M990.8 837.7h0M1005 888.9h0M965.3 838h0M970.9 878.1h0M967.6 838.3h0M1006.1 886.9h0M990 908.9h0M1013.8 737.9h0M993.5 841.4h0M979.1 796.6h0M986.7 853h0M991.8 907h0M1007.6 799.6h0M969.1 878.6h0M970.5 841.2h0M996.3 888.7h0M975.8 869.1h0M971.4 842.5h0M988.6 781.2h0M993.9 840h0M970.5 814h0M995.9 833.4h0M1011.4 838.7h0M967.8 865.8h0M971.9 844.1h0M946 812.8h0M998 796.1h0M985.1 864.2h0M979.9 821.7h0M982.1 722.8h0M951.9 860.8h0M978.4 907.9h0M983.9 822.1h0M1008.2 846.7h0M1020.9 773.4h0M995.3 868.9h0M997.9 895h0M1008.3 833.9h0M973.5 886.1h0M987 885.3h0M1015.9 844.2h0M966.5 819.6h0M1003.9 821h0M1012.6 836.7h0M989.8 800.5h0M984.8 895.2h0M979.5 816.6h0M969.8 877.6h0M953.4 798.5h0M981.7 886.9h0M942.9 875.3h0M992.9 766.2h0M947.2 805.6h0M992 853.6h0M988.7 875.7h0M1001.7 757.1h0M977.8 805h0M1008.8 806h0M1008.3 838.1h0M986.3 826.9h0M975.1 785h0M981.8 869.8h0M964.4 876.5h0M1002.9 823.6h0M980.5 789.2h0M980 788.5h0M979.7 830h0M944.1 803.1h0M993.3 847.1h0M988.5 878.5h0M987.8 810.6h0M1021 726.5h0M960.3 791.2h0M969.6 789h0M980.6 792.2h0M984.2 863.5h0M986 838.2h0M964.8 768.5h0M978.9 881.5h0M993.5 890.2h0M1007 892.2h0M821.5 736.9h0M912.4 685.3h0M892.3 701.8h0M837.9 736h0M924.3 684.5h0M791.9 660.1h0M761.7 742.7h0M971.2 707.7h0M919.1 679.7h0M847.9 729.8h0M872.4 700.1h0M746.9 655.8h0M826.2 683.9h0M847.8 681.3h0M838.7 703.1h0M885.2 703.3h0M817.7 692.5h0M909.8 694.7h0M791.1 669.7h0M870.2 718.6h0M929.7 691.1h0M939.3 690.2h0M837.3 683.3h0M885.2 733.6h0M850.3 685.3h0M754.3 705.5h0M830.1 694.6h0M811.8 673.6h0M824.5 714.7h0M912.1 700.4h0M871.8 694.6h0M843.5 658.2h0M907.1 719.2h0M943.2 681.6h0M859.4 672h0M866.5 696.8h0M894 696.1h0M891.9 685.5h0M888.9 691.3h0M823.9 703.4h0M874.6 657h0M755.9 706.6h0M847.9 637.7h0M744.2 676.9h0M871.7 707.1h0M915 737.1h0M849.1 733.8h0M772.6 657.1h0M864.1 734.8h0M930.6 645.7h0M775.1 697.8h0M818.4 710.9h0M860.2 755.5h0M847.8 706.6h0M856.6 735.3h0M781.8 712.9h0M803.2 656.9h0M926.5 717.4h0M940.4 709h0M893.4 705.4h0M888.5 688.5h0M960.6 673.8h0M960.9 695.2h0M908 705.8h0M881.3 748h0M862.3 672.2h0M868.5 721.9h0M922.7 646.4h0M843.6 727.4h0M779.8 688.5h0M831.8 719.2h0M924.3 700.7h0M857.5 730.8h0M888 698.3h0M938.3 657.3h0M863.1 688.5h0M821.2 707.9h0M894.5 712.7h0M958.9 733.6h0M734.2 705.5h0M900.8 682.5h0M872.1 687.1h0M877 650.2h0M728.2 684.1h0M867.2 743.3h0M834.9 677.7h0M911.2 702.3h0M968 698.4h0M727.5 676h0M791.2 657.1h0M802.4 679.2h0M833.7 683.6h0M878 713.9h0M863.1 707.1h0M730.8 648.1h0M795.2 708.9h0M757.6 687.5h0M867.5 763.6h0M868.3 683.8h0M921.7 707.2h0M832.1 735.8h0M792.1 706.6h0M856.1 729h0M776.9 659.3h0M825.4 691.5h0M853 688.2h0M877.9 721.9h0M864.4 666.5h0M924.2 651.2h0M836.4 728.1h0M809.8 740.8h0M972.9 749.8h0M877.5 730.9h0M816.3 712.4h0M878.8 702.7h0M859.4 693.1h0M722.7 712.4h0M869.6 764.9h0M895.4 701.9h0M905.9 719.5h0M848.3 687.6h0M754.6 703.6h0M954.5 640.4h0M788 723.8h0M861.9 713.1h0M729.2 681h0M882.1 718.5h0M868.6 671.6h0M884.4 661.7h0M788.6 662.6h0M942.7 686.6h0M920.3 714.5h0M742.2 648.5h0M956.8 669.6h0M968.6 684.7h0M881.8 721.4h0M816.3 692.8h0M911.2 673.3h0M721.6 728.6h0M808.9 740.3h0M817.8 685.9h0M925.3 679.4h0M836.3 746.3h0M856.5 728.1h0M870.8 724.2h0M867 736.4h0M835.4 714.3h0M803.1 737.5h0M872.6 710.5h0M848.7 742.4h0" stroke="#9c3a36" stroke-width="1.7" stroke-linecap="round" fill="none"/>
<path d="M738.7 820.7h0M876.3 906.8h0M841.8 793.6h0M931.2 877.2h0M748 822.3h0M771.9 908.1h0M796.1 795.3h0M748.2 884.2h0M913 894.4h0M744.3 864.6h0M869.6 790.2h0M849.8 783.4h0M782.4 763.7h0M819.1 779.1h0M866.7 767.6h0M734.3 821.2h0M744.2 786.9h0M762 841.1h0M720.6 883.8h0M783 800.1h0M739.1 788.7h0M756.4 888.9h0M772.8 884h0M702.8 855.2h0M740.1 857.3h0M762.1 786.5h0M810.1 775.2h0M737.8 835.3h0M802.6 896.2h0M778.6 795.6h0M797.3 792.3h0M810.6 778.1h0M797.6 788.5h0M853.9 790.9h0M706.7 804.6h0M742.9 845.4h0M730.2 836.2h0M719.9 809.2h0M706.6 783.4h0M701.9 733.8h0M899.2 891.4h0M829.5 906.8h0M823.4 775.2h0M739 872h0M693.3 889.8h0M768.7 890.3h0M725.6 732.2h0M730.1 876.6h0M749.5 795.7h0M778.7 803.4h0M1056.4 613.2h0M1062.7 637.9h0M1052.7 658.9h0M1104.1 642.5h0M1049.4 675.5h0M1062.4 614.8h0M1062.3 704.1h0M1092.6 678.7h0M1054.2 670.3h0M1058.4 630.2h0M1092.3 661.8h0M1044.2 746.9h0M1055.8 663.6h0M1095.1 688h0M1078.1 657.9h0M1090 662.4h0M1064.4 710.1h0M1062 684h0M1074.3 689.8h0M1042.9 723.7h0M1075.2 696.5h0M1062.3 683.1h0M1064.4 663.9h0M1046.9 692.3h0M1055.6 616.9h0M1046.3 699.7h0M1070.8 716.5h0M1065.1 657.4h0M1061.3 648.6h0M1070.4 684.6h0M1070.4 683.8h0M1037.5 633.4h0M1057.6 658h0M1075.7 732.6h0M1075.1 737.6h0M1047.9 677.1h0M1095.8 700.8h0M1103.6 648.7h0M1080.7 653.2h0M1081 608h0M1084 727h0M1060.1 717.2h0M1050.5 738.3h0M1076.2 637.3h0M1061.8 695.2h0M1041.1 635h0M1069.6 695.7h0M1060.8 628.6h0M1050.2 694.9h0M1038.7 623.7h0M1011.5 615.3h0M1087.3 647.6h0M1019.1 712.2h0M1062.6 714.6h0M1025.1 705.3h0M1054 674h0M1048.3 725.6h0M1066.6 731.9h0M1077.5 599.6h0M776.9 637.4h0M827.6 754.4h0M783.4 654.1h0M798 674.2h0M792 665h0M840.3 625.8h0M838.6 722.1h0M779.4 637.7h0M840.1 733.2h0M757.1 671.7h0M928.9 741.6h0M843.1 642.3h0M785.9 695.3h0M830.1 632.7h0M763 685.3h0M845.8 619.7h0M826.2 767h0M766.8 720.1h0M759.6 666.6h0M774.7 641.8h0M771.3 762.2h0M765.1 730.1h0M895.3 613.1h0M731.4 714.7h0M722.9 738h0M810.3 652.4h0M821 611.5h0M856.5 650.1h0M740.9 687h0M863.7 614.8h0M860.8 751.7h0M823.6 669.3h0M818.5 736.2h0M817.8 658.1h0M733.4 743.5h0M869.2 638.4h0M772.3 688.8h0M778.7 668.8h0M822.7 678.4h0M814.4 720.8h0M894.1 617.9h0M743.7 723.1h0M766.5 704.5h0M841.6 630.2h0M830.4 679.9h0M792.1 768.1h0M822.2 612.5h0M888.1 744h0M737.7 697.1h0M798.8 622.7h0M816.7 766h0M817.4 660.5h0M766.6 685.2h0M781.1 655.6h0M826.4 658.8h0M759.4 735.7h0M839.9 647h0M817.9 666.6h0M807.7 743.9h0M805 696.8h0M780.6 660h0M741.8 663.4h0M805 676.7h0M736.3 688h0M1035.8 900.5h0M1050.3 837.9h0M1005.8 769.5h0M1032.7 878.1h0M1025.6 856.5h0M1032.6 824.7h0M1006.1 799.4h0M1019.1 877h0M1012.6 850.7h0M1019.9 884.8h0M1020.4 801.2h0M1038.6 847.8h0M1014.6 867.4h0M1019.3 894.2h0M1016.8 811.8h0M1054 795.8h0M1020.4 845.8h0M1039.1 797.5h0M1031.5 802.1h0M998.5 899.1h0M1007.7 817.9h0M1033 804.2h0M1025.3 910h0M1033.3 821h0M1017.3 841.8h0M1001.6 780.8h0M1033.1 792.3h0M1002.6 876.6h0M1010.4 822.2h0M1042.7 796.1h0M1032.5 786.4h0M1018.7 796h0M1032.1 835.1h0M1043.6 857.1h0M1044.6 862.1h0" stroke="#2e1c1c" stroke-width="1.8" stroke-linecap="round" fill="none"/>
<g filter="url(#sp)" clip-path="url(#ce)"><g>
<ellipse cx="850" cy="750" rx="70" ry="40" fill-opacity="0.068" filter="url(#b12)"/>
<ellipse cx="840" cy="682" rx="45" ry="22" transform="rotate(-10 840 682)" fill-opacity="0.339" filter="url(#b8)"/>
<ellipse cx="1030" cy="660" rx="35" ry="60" fill-opacity="0.085" filter="url(#b10)"/>
<rect x="978" y="607" width="52" height="18" fill-opacity="0.153" filter="url(#b4)"/>
<path d="M928 752L1005 752L1000 830L985 907L928 907Z" fill-opacity="0.169" filter="url(#b8)"/>
<path d="M928 752L1005 752L1002 795L928 795Z" fill-opacity="0.164" filter="url(#b8)"/>
<ellipse cx="858.8" cy="846.8" rx="110" ry="60" transform="rotate(-8 858.8 846.8)" fill-opacity="0.229" filter="url(#b14)"/>
<ellipse cx="870" cy="850" rx="55" ry="30" transform="rotate(-5 870 850)" fill-opacity="0.165" filter="url(#b12)"/>
<g opacity="0.153" filter="url(#b6)"><path d="M1024.6 629L1022.7 648.5L1014.8 674L1005 697.4L1001 713L985.5 705L926.8 701L872 695.5L874 681.8L897.4 666L926.8 660L956 658L968 642L979.6 627Z" stroke="#000" stroke-width="30" stroke-linejoin="round"/></g>
<g opacity="0.37" filter="url(#b4)"><path d="M1024.6 629L1022.7 648.5L1014.8 674L1005 697.4L1001 713L985.5 705L926.8 701L872 695.5L874 681.8L897.4 666L926.8 660L956 658L968 642L979.6 627Z" stroke="#000" stroke-width="12" stroke-linejoin="round"/></g>
<path d="M928 635L978 628L956 658L928 660Z" fill-opacity="0.146" filter="url(#b3)"/>
<path d="M938 700L1003 700L996 754L944 754Z" fill-opacity="0.61" filter="url(#b4)"/>
<path d="M1024.6 629L1022.7 648.5L1014.8 674L1005 697.4L1001 713L985.5 705L926.8 701L872 695.5L874 681.8L897.4 666L926.8 660L956 658L968 642L979.6 627Z" filter="url(#b2)"/>
</g></g>
<line x1="687.6" y1="506" x2="687.6" y2="911" stroke="#555" stroke-width="1"/>
<path d="M687.6 813h-5M687.6 781.1h-3M687.6 762.4h-3M687.6 749.2h-3M687.6 738.9h-3M687.6 730.5h-3M687.6 723.4h-3M687.6 717.3h-3M687.6 711.9h-3M687.6 707h-5M687.6 676.8h-3M687.6 659.1h-3M687.6 646.6h-3M687.6 636.9h-3M687.6 629h-3M687.6 622.2h-3M687.6 616.4h-3M687.6 611.3h-3M687.6 606.7h-5M687.6 589.6h-3M687.6 579.6h-3M687.6 572.6h-3M687.6 567.1h-3M687.6 562.6h-3M687.6 558.8h-3M687.6 555.5h-3M687.6 552.6h-3M687.6 550h-5M687.6 871.7h-5M687.6 895.2h-3M687.6 889.3h-3M687.6 883.4h-3M687.6 877.6h-3M687.6 865.8h-3M687.6 860h-3M687.6 854.1h-3M687.6 848.2h-3M687.6 842.4h-3M687.6 836.5h-3M687.6 830.6h-3M687.6 824.7h-3M687.6 818.9h-3" stroke="#555" stroke-width="1" fill="none"/>
<path d="M797.9 911.5v6M833.6 911.5v4M854.5 911.5v4M869.3 911.5v4M880.8 911.5v4M890.2 911.5v4M898.1 911.5v4M905 911.5v4M911.1 911.5v4M916.5 911.5v6M950.7 911.5v4M970.7 911.5v4M984.8 911.5v4M995.8 911.5v4M1004.8 911.5v4M1012.4 911.5v4M1019 911.5v4M1024.8 911.5v4M1030 911.5v6M1063.2 911.5v4M1082.6 911.5v4M1096.3 911.5v4M1107 911.5v4M1115.8 911.5v4M1123.1 911.5v4M1129.5 911.5v4M1135.2 911.5v4M1140.2 911.5v6M1173.4 911.5v4M731.3 911.5v6M704.7 911.5v4M711.3 911.5v4M718 911.5v4M724.6 911.5v4M738 911.5v4M744.6 911.5v4M751.3 911.5v4M757.9 911.5v4M764.6 911.5v4M771.3 911.5v4M777.9 911.5v4M784.6 911.5v4M791.2 911.5v4" stroke="#555" stroke-width="1" fill="none"/>
<line x1="926.2" y1="506.3" x2="926.2" y2="911.5" stroke="#111" stroke-width="2"/>
<line x1="688" y1="751.4" x2="1187" y2="751.4" stroke="#111" stroke-width="2"/>
<text x="688.8" y="526" font-size="20" textLength="24.6" lengthAdjust="spacingAndGlyphs" fill="#1a1a1a">UL</text>
<text x="689" y="549.6" font-size="20" textLength="48.1" lengthAdjust="spacingAndGlyphs" fill="#1a1a1a">10.61</text>
<text x="1135.8" y="525.5" font-size="20" textLength="26.6" lengthAdjust="spacingAndGlyphs" fill="#1a1a1a">UR</text>
<text x="1136" y="549" font-size="20" textLength="49.1" lengthAdjust="spacingAndGlyphs" fill="#1a1a1a">68.51</text>
<text x="688.8" y="882" font-size="20" textLength="21.4" lengthAdjust="spacingAndGlyphs" fill="#1a1a1a">LL</text>
<text x="689" y="904.4" font-size="20" textLength="50.1" lengthAdjust="spacingAndGlyphs" fill="#1a1a1a">12.30</text>
<text x="1147.1" y="882" font-size="20" textLength="24.6" lengthAdjust="spacingAndGlyphs" fill="#1a1a1a">LR</text>
<text x="1147.3" y="904.4" font-size="20" textLength="39.6" lengthAdjust="spacingAndGlyphs" fill="#1a1a1a">8.59</text>
<text x="663.4" y="555.5" class="tk" textLength="20.5" lengthAdjust="spacingAndGlyphs">10<tspan dy="-8" font-size="13">5</tspan></text>
<text x="663.4" y="612.2" class="tk" textLength="20.5" lengthAdjust="spacingAndGlyphs">10<tspan dy="-8" font-size="13">4</tspan></text>
<text x="663.4" y="712.5" class="tk" textLength="20.5" lengthAdjust="spacingAndGlyphs">10<tspan dy="-8" font-size="13">3</tspan></text>
<text x="663.4" y="818.5" class="tk" textLength="20.5" lengthAdjust="spacingAndGlyphs">10<tspan dy="-8" font-size="13">2</tspan></text>
<text x="672" y="877.2" class="tk" text-anchor="middle">0</text>
<text x="792.2" y="930.9" class="tk" textLength="20.5" lengthAdjust="spacingAndGlyphs">10<tspan dy="-8" font-size="13">2</tspan></text>
<text x="910.8" y="930.9" class="tk" textLength="20.5" lengthAdjust="spacingAndGlyphs">10<tspan dy="-8" font-size="13">3</tspan></text>
<text x="1024.3" y="930.9" class="tk" textLength="20.5" lengthAdjust="spacingAndGlyphs">10<tspan dy="-8" font-size="13">4</tspan></text>
<text x="1134.5" y="930.9" class="tk" textLength="20.5" lengthAdjust="spacingAndGlyphs">10<tspan dy="-8" font-size="13">5</tspan></text>
<text x="731.3" y="930.9" class="tk" text-anchor="middle">0</text>
<text x="913.6" y="955.5" font-size="19" textLength="59" lengthAdjust="spacingAndGlyphs" fill="#1a1a1a">FITC-A</text>
<text x="653.5" y="708.8" font-size="19" textLength="43" lengthAdjust="spacingAndGlyphs" fill="#1a1a1a" transform="rotate(-90 653.5 708.8)">PE-A</text>
<rect x="637" y="472.6" width="26" height="29.4" fill="#fefefe" stroke="#9a9a9a" stroke-width="0.9"/>
<text x="649.6" y="495.3" font-size="19.5" font-weight="bold" text-anchor="middle" fill="#2a68ad" textLength="15.6" lengthAdjust="spacingAndGlyphs">M</text>
<text x="624.6" y="516.8" font-size="30" textLength="34" lengthAdjust="spacingAndGlyphs" fill="#1d1a9c" class="se" stroke="#fff" stroke-width="3.5" paint-order="stroke" stroke-linejoin="round">(e)</text>
<text x="907.7" y="493.4" font-size="24" textLength="57.5" lengthAdjust="spacingAndGlyphs" fill="#1a1a1a">B - P1</text>
</g>
<g id="panel-f">
<path d="M1533.2 886.6h0M1530.8 861.1h0M1509.2 869.8h0M1487.4 813.1h0M1480.7 715.6h0M1419.2 802.8h0M1435.2 856.3h0M1547.5 887.9h0M1468.4 863h0M1415.6 731h0M1474.9 796.9h0M1374.1 676.2h0M1491.3 728.3h0M1542.5 803.7h0M1488.4 792.5h0M1523.7 770.8h0M1535.1 748.4h0M1456.5 739.2h0M1505.9 782.2h0M1448.2 773h0M1493.6 884.9h0M1461.1 822.2h0M1475.9 692.2h0M1517.5 841.2h0M1455.6 779.1h0M1379.9 688.6h0M1446.5 817.6h0M1441.8 797.5h0M1528.1 785.7h0M1504.5 866.9h0M1395.2 824.6h0M1356.9 805.9h0M1482.2 747.4h0M1405.4 776.3h0M1445.4 785.9h0M1415.5 812.7h0M1407.8 761.7h0M1446.5 856.1h0M1380.3 755.2h0M1540.9 740.5h0M1395.6 797h0M1452.6 830.1h0M1414.8 791.5h0M1510 842.1h0M1403.6 865.4h0M1416 689.2h0M1412.7 789.3h0M1450.7 806.4h0M1499.7 799.1h0M1454.7 888.8h0M1439.6 704.7h0M1521.5 857.9h0M1544.1 749.5h0M1478.9 712.8h0M1482.4 739.5h0M1494.6 759.4h0M1532 829.6h0M1544.3 683.7h0M1360.8 804.3h0M1435.4 803.9h0M1487.9 790.8h0M1525.2 813.4h0M1498.3 726.4h0M1573.5 787.6h0M1536.4 799.6h0M1546.2 789.2h0M1483.1 788.3h0M1427.5 745.7h0M1461.2 773h0M1411.1 761.6h0M1516 819.7h0M1457.5 694.3h0M1376.8 779.5h0M1479.2 740.8h0M1523.7 790.6h0M1421.9 754.6h0M1472.9 861h0M1477.8 822.8h0M1472.8 822.6h0M1498.1 785.2h0M1427.6 795h0M1529.7 790.1h0M1566.5 842.2h0M1467.9 890.1h0M1408.4 856.3h0M1587.4 770.9h0M1470.1 842.6h0M1562.4 813.2h0M1491.3 842h0M1492.7 714.6h0M1465.9 786.3h0M1387.2 811.1h0M1432.6 831.7h0M1387.7 732.4h0M1389.6 864.1h0M1553.5 875.2h0M1565.6 841.3h0M1530.7 685.1h0M1496.8 757.1h0M1457.8 713.4h0M1555.9 796.6h0M1387.9 817.6h0M1471.9 723.3h0M1457.1 738h0M1502.8 802.4h0M1487.4 710h0M1434.3 783.9h0M1511.4 729.4h0M1406.4 848.4h0M1474 757.1h0M1425.6 740.5h0M1565.1 838.2h0M1444.9 704.8h0M1570.4 874.2h0M1542.2 830.5h0M1356.8 702.5h0M1503.9 762.9h0M1485.3 748.5h0M1430.6 813.2h0M1446 779.8h0M1485.3 793.9h0M1539.5 862.1h0M1387.9 763.8h0M1431.1 825.2h0M1405.8 826.4h0M1511.9 814.5h0M1411.4 766.9h0M1405 803.6h0M1527.1 688.6h0M1420.2 770h0M1437.9 869.4h0M1461.1 795h0M1403.1 872.4h0M1479.8 826.3h0M1374 702.6h0M1498.1 749.3h0M1495.6 797.1h0M1484.8 835h0M1480.8 681.4h0M1429.1 879.6h0M1405.6 861.7h0M1569.1 744.3h0M1490.7 695.9h0M1516.3 733.3h0M1391.4 756.4h0M1442.6 744.9h0M1481.8 769.9h0M1430.2 836.9h0M1427.7 720.4h0M1505.4 764.6h0M1470.9 660.3h0M1402.1 710.3h0M1526.6 763.8h0M1537.9 858.3h0M1518.7 816.3h0M1455.8 671.9h0M1444 760.6h0M1504.4 818.4h0M1455.4 830.8h0M1406.6 739h0M1468.1 814.4h0M1450.7 853.8h0M1494.7 723.1h0M1475.1 726.7h0M1412.2 694.4h0M1553.9 834.6h0M1374 846.8h0M1527.7 758.2h0M1487.2 805.3h0M1537.3 717.9h0M1394 695.4h0M1465.4 832.4h0M1418.5 697.8h0M1483 759h0M1507.8 774.1h0M1461.1 777.2h0M1474.5 724.7h0M1405.1 877.9h0M1375 784.7h0M1544.3 685.8h0M1443.8 758.6h0M1418.2 732.9h0M1534.1 756.2h0M1459.6 886.4h0M1422.4 668.4h0M1486.1 801.8h0M1396.1 727.1h0M1561.3 859h0M1508.6 744.6h0M1401.5 720.1h0M1402.3 819.3h0M1425 752.3h0M1513.5 822.1h0M1474.3 809.9h0M1471.2 664.5h0M1465.8 754.9h0M1448.9 794.7h0M1436.1 853.6h0M1459.8 790.1h0M1489.9 769.7h0M1509 825.6h0M1508 737.3h0M1415.3 743h0M1469.6 666.6h0M1418.1 709.6h0M1428.2 723.1h0M1517.5 805.5h0M1526.1 719.2h0M1421.7 760.7h0M1568.3 879.7h0M1431.7 816.8h0M1457.8 857.4h0M1512.9 719.7h0M1560.8 838.7h0M1511.2 705.1h0M1459.7 858.9h0M1499.2 827.8h0M1453.7 870.6h0M1455.3 835.3h0M1489.3 721.9h0M1559 704.1h0M1425.6 788.3h0M1385.4 671.3h0M1462.6 754h0M1453 809.7h0M1377 794.5h0M1502.1 728.4h0M1486.5 832.2h0M1434.1 680.6h0M1408.9 759.6h0M1484.8 824.3h0M1412 779.7h0M1452 779.7h0M1533.8 855.5h0M1439 741.2h0M1426.2 746.1h0M1442.9 767.6h0M1437.5 713.4h0M1397.6 781.3h0M1507 799h0M1449.2 719.5h0M1393.9 789.2h0M1408.1 725.6h0M1415.8 699h0M1478.1 677.2h0M1384.4 782h0M1493.4 757.8h0M1485.7 789.3h0M1476.5 814.3h0M1483.9 773.5h0M1461.1 832.8h0M1458.8 814.2h0M1564.9 803.3h0M1542.8 754.5h0M1486.8 811.1h0M1484.4 809.3h0M1554.9 761.6h0M1430.2 800.1h0M1382.8 779.4h0M1541.7 779.4h0M1502.8 803.1h0M1542.2 810.4h0M1438.5 822.3h0M1460.9 734.4h0M1523.5 726h0M1448.3 819.5h0M1437.4 788.5h0M1466.9 705.8h0M1435.9 755.4h0M1428.3 842.5h0M1465.4 738.2h0M1383 756.9h0M1544.8 757.7h0M1511.3 803h0M1434.8 718.8h0M1498.2 674.9h0M1500.1 704.7h0M1517.4 752.7h0M1461 839.5h0M1406.5 779.6h0M1447.7 807.3h0M1510 794.2h0M1479.4 752.8h0M1503.4 763.1h0M1475 788.4h0M1385.9 709.7h0M1480.7 776.4h0M1480.3 843h0M1473.3 824.6h0M1469.2 774.7h0M1522.1 700.7h0M1475.5 785h0M1485.3 815.6h0M1440.5 806.4h0M1487 709.8h0M1459.4 794.7h0M1421.3 840.7h0M1446 592h0M1401.4 666.4h0M1484.1 656h0M1473.9 602.6h0M1406.8 673.8h0M1393.5 617.8h0M1499.3 675h0M1379 648.5h0M1508.5 684h0M1413.4 639.7h0M1462.7 614.1h0M1358.2 625.6h0M1499.7 675h0M1463.1 611.8h0M1341.1 615.2h0M1440.1 672.6h0M1393.6 645.6h0M1436.3 609.7h0M1475.8 592h0M1435.8 599.9h0M1414.7 678.9h0M1445.6 644.6h0M1478.1 656.2h0M1502.9 600.6h0M1501.5 643.4h0M1382.1 658.5h0M1461 641.6h0M1477.2 605.3h0M1351.8 625.4h0M1489.3 657.1h0M1435.4 624.7h0M1435.1 675.2h0M1408 626.3h0M1457.9 661.1h0M1443.6 683.4h0M1447.2 616.4h0M1429.8 653.2h0M1461.2 682h0M1491.1 672.4h0M1453.9 638.7h0M1453.7 622.4h0M1458.9 675.3h0M1476.8 649.7h0M1397.3 620.9h0M1404.8 634.2h0M1463.1 659.2h0M1469.5 673.7h0M1392.2 639.5h0M1467.2 667.6h0M1407.1 625.9h0M1497.8 664.5h0M1463.1 637.5h0M1393.2 644.6h0M1456.3 659.4h0M1483.8 648.6h0M1503.1 636.1h0M1457.7 647.3h0M1351.8 609h0M1414.4 649.5h0M1456.9 680.9h0M1439.7 636.1h0M1456.3 611.3h0M1430.6 616.9h0M1442.9 625.4h0M1418.8 697.9h0M1448.9 639.7h0M1400.2 643.7h0M1352 647.1h0M1411.3 607.2h0M1349.4 619.3h0M1418.6 643.3h0M1357.8 642.9h0M1456.9 670h0M1403.5 644.5h0M1403 621.3h0M1463.9 638.3h0M1511.7 643.8h0M1460.6 610.8h0M1389.7 663.2h0M1405.5 680.2h0M1398.8 620.1h0M1535.5 597.4h0M1414.2 659.3h0M1469.5 613.2h0M1344.3 670.2h0M1415.9 646.6h0M1478 619.7h0M1404 642.1h0M1481.7 608.2h0M1511.8 655.1h0M1383.8 646.1h0M1468.1 679.2h0M1482.8 676.3h0M1432.8 665.4h0M1437.9 689.5h0M1410.5 631.7h0M1442.2 667.8h0M1456.6 673.9h0M1442.8 674.3h0M1471.4 604.6h0M1472.1 675.7h0M1431.9 674.6h0M1394.4 660.4h0M1400.4 618.6h0M1514.3 604.9h0M1466 676.1h0M1427.2 620h0M1431.2 629.2h0M1400.9 651.6h0M1505.5 650.7h0M1469.1 692.6h0M1499.7 647.1h0M1402.2 695.3h0M1440.9 652.5h0M1509.5 651.1h0M1506.2 637.7h0M1450.8 640.4h0M1431.6 620.8h0M1404.2 609.3h0M1399.5 679.1h0M1512.6 626.7h0M1378.6 631.4h0M1521.5 642.7h0M1433.2 661.8h0M1459.6 608.2h0M1490.3 663.2h0M1380.7 612.5h0M1473.3 627.8h0M1416.6 645.2h0M1416.6 655.2h0M1454.5 670.7h0M1377.1 654.2h0M1425.2 703.5h0M1512.3 633.2h0M1486.8 595.3h0M1386.3 637.1h0M1452.5 613.6h0M1440.9 679.5h0M1358.7 606.6h0M1343.3 676.5h0M1385.1 633.5h0M1394.3 641.6h0M1421.8 649.3h0M1446.9 688.8h0M1391.2 649h0M1434.3 618.4h0M1480 694.9h0M1430.1 641.2h0M1431.1 636.3h0M1470.6 638.6h0M1566.4 755.7h0M1543.2 699.8h0M1584.5 724.7h0M1592.2 859.7h0M1545.2 747.9h0M1609.6 829.2h0M1547.8 790.4h0M1582.3 829.6h0M1565.1 734.8h0M1590.2 682.2h0M1586.4 838.3h0M1577 684.1h0M1607 768.9h0M1586.5 721.9h0M1573.4 831.2h0M1544.6 696.7h0M1533.1 794.2h0M1583.8 722.2h0M1581.6 770.8h0M1613.9 703.2h0M1579.8 744.8h0M1611.6 794.3h0M1550.7 793.4h0M1571.5 716.3h0M1582.7 776.3h0M1550.8 743.3h0M1597.6 823.7h0M1571.8 749h0M1580 762h0M1550.1 803.4h0M1558.2 849.1h0M1586.2 808.5h0M1568.1 778h0M1562.7 746.8h0M1553.8 847.5h0M1552 862.7h0M1589.7 719.1h0M1601.2 792.6h0M1558.9 783.6h0M1568.3 727.9h0M1573.8 785h0M1568.4 767.9h0M1590.8 763.4h0M1567.4 698.8h0M1573.7 744.2h0M1570.6 814.1h0M1592.4 772.3h0M1563.6 778.1h0M1581.6 784h0M1546.7 787.8h0M1555 787.6h0M1583.3 779h0M1599.2 770.8h0M1581.5 721.5h0M1573 757.9h0M1576.3 760.7h0M1588.9 655.6h0M1580.2 825.8h0M1589.7 809.3h0M1571.5 742.2h0M1613.2 794.2h0M1608 767.1h0M1593.9 816.3h0M1591.4 704.6h0M1569 787.9h0M1540.4 848h0M1568.1 787.6h0M1579.5 676.1h0M1569.4 841.5h0M1560.4 786.7h0M1596.3 860.2h0M1559.6 830.6h0M1589.9 803.6h0M1595.8 815.1h0M1557 800.9h0M1564.5 792.6h0M1568.4 856.1h0M1595.3 802h0M1563.4 798.3h0M1554.9 727.6h0M1543.6 823h0M1567 825.2h0M1599.4 830.8h0M1568.8 854.6h0M1600.3 706.5h0M1584.4 731.8h0M1574.5 841.7h0M1583.4 862.6h0M1589.5 816.8h0M1610.3 843.9h0M1593.2 851h0M1601.6 701.6h0M1556.9 781.7h0M1599.2 735.9h0M1544.2 773h0M1565.4 856.6h0M1556.5 760.8h0M1584 775.3h0M1588.8 785.1h0M1560.7 865.5h0" stroke="#9c3a36" stroke-width="1.7" stroke-linecap="round" fill="none"/>
<path d="M1493.4 884.6h0M1344.3 883.7h0M1384.9 780.3h0M1416.8 866.7h0M1377.6 813.6h0M1308.1 797.8h0M1376.2 747.8h0M1360.1 769.3h0M1420.7 850.2h0M1342.4 809h0M1413.7 707.3h0M1493.2 856.4h0M1375.7 809.4h0M1372.6 711.9h0M1543.8 850.3h0M1490.1 855.9h0M1308.4 769.4h0M1382.9 799.7h0M1315.5 765.9h0M1431 872.9h0M1362.3 779.2h0M1379.7 800.6h0M1397.5 871.8h0M1531.8 783.3h0M1391.4 799.3h0M1535.6 822.9h0M1539.7 818.7h0M1345.7 800.8h0M1389.6 733.7h0M1433 707.6h0M1388.3 871.5h0M1424.5 857.7h0M1378.6 720.7h0M1525.6 743.9h0M1392.5 830.5h0M1486.5 878.8h0M1372.4 794h0M1358.7 779.5h0M1349.9 802.1h0M1367.4 797.7h0M1354.4 716.7h0M1372.6 782.3h0M1351.5 826.7h0M1333.2 680.4h0M1300.2 807.8h0M1372 818.9h0M1364.5 787.2h0M1519.3 734.7h0M1385.8 862.8h0M1379.3 818.8h0M1421 843.8h0M1338.1 818.2h0M1351 739.6h0M1462.1 870.5h0M1528.5 893.5h0M1371.3 755.2h0M1388 870.8h0M1481.4 858.2h0M1385.5 748.3h0M1452.7 873.7h0M1391.9 872.2h0M1552.4 809.9h0M1486.1 875.7h0M1318.5 817h0M1532 724.4h0M1538.2 877.3h0M1395.6 749.3h0M1342.2 812.8h0M1332.7 747.4h0M1416.8 706.5h0M1364.8 866.3h0M1453.3 867h0M1337.7 803.8h0M1502.5 861.7h0M1378 725.9h0M1376.9 762.4h0M1379.2 830.2h0M1393.5 874.1h0M1528.4 856.3h0M1364.4 892.2h0M1537.7 791.1h0M1364 729.2h0M1366.9 737.9h0M1417.7 708.2h0M1385.2 728.1h0M1365.5 837.9h0M1605.6 656h0M1635.7 674.5h0M1637.9 664.6h0M1663.1 631.3h0M1613.4 645.2h0M1628.5 684.9h0M1626.8 678.6h0M1625.6 644h0M1623.7 642.8h0M1621 614.5h0M1606.3 669.5h0M1637.3 689.1h0M1666.3 616.6h0M1674.8 632h0M1643.2 634.1h0M1646.8 653.3h0M1638.9 663.9h0M1643.9 605.1h0M1667.1 631h0M1633.9 663.7h0M1647.1 631.6h0M1641.8 616.2h0M1620.6 631.7h0M1623.1 645.2h0M1643.9 645.6h0M1628.1 614.7h0M1625.1 665.4h0M1647.3 655.8h0M1644.7 589.8h0M1635.8 683.3h0M1625.2 634h0M1616.2 651.1h0M1631.7 616.1h0M1634.5 643.7h0M1640.4 654.5h0M1616.7 654.7h0M1631.8 640.9h0M1624.1 645.3h0M1619.2 613.2h0M1655.8 609.1h0M1637.3 662.6h0M1636.4 633.4h0M1627.9 600.2h0M1638 616.3h0M1628.2 616.8h0M1649 630.1h0M1629.7 679.1h0M1620.7 623h0M1644.3 680.8h0M1647.3 660.2h0M1652.3 624.9h0M1614 649.2h0M1667.1 625.8h0M1384.6 636.2h0M1380.6 593.8h0M1521.2 583.3h0M1429.2 632.5h0M1349.9 669.5h0M1393.4 693.4h0M1379.4 640.1h0M1466.1 591.6h0M1431 637.6h0M1375 584.2h0M1400.7 624.6h0M1410.7 658.4h0M1436.7 588.2h0M1384.4 666.8h0M1413 665.5h0M1389.3 617.1h0M1491.1 584.9h0M1330.6 646.2h0M1394.2 633.4h0M1355.7 693.7h0M1348.4 630.3h0M1431.7 621.8h0M1355.8 652.5h0M1399.8 688.8h0M1430 621.9h0M1446.5 610.5h0M1384.9 621.2h0M1402.3 623.1h0M1413.4 686h0M1334.3 641.1h0M1340.1 643.1h0M1361.7 641.8h0M1422.5 668.9h0M1418.4 582.7h0M1349 603.8h0M1365.2 645h0M1445.2 588.5h0M1378.6 649.5h0M1318.7 605.7h0M1437.5 613.9h0M1410.7 631.5h0M1374.5 623.4h0M1362.1 657.3h0M1348 619h0M1406.5 649.6h0M1410.2 620.6h0M1387.8 587.2h0M1433.8 581.3h0M1423.4 613.6h0M1324.7 666.8h0M1368.9 643.4h0M1444 601.5h0M1461.2 582.1h0M1609 849.1h0M1581.1 798.2h0M1551.9 813.4h0M1573.6 871.3h0M1591.6 810.5h0M1604.2 827h0M1576.3 868.5h0M1631.5 799.8h0M1593.8 754.3h0M1535.1 776.3h0M1618.2 755.7h0M1601.8 799.7h0M1601.2 888.9h0M1539.9 849.8h0M1574.2 808.8h0M1610.1 798.3h0M1631.3 853.4h0M1576.9 841.1h0M1609.5 803.1h0M1572.9 810.8h0M1597.7 812.9h0M1586.5 719.2h0M1559.5 865.5h0M1626.5 794.7h0M1584.6 702.5h0M1590.3 756.6h0M1582.8 696.2h0M1620.9 795.5h0M1581.9 836.5h0M1605.2 757.9h0M1604.1 800h0M1616.5 762.3h0M1613.9 780.9h0M1586.2 872.3h0M1568.8 817.1h0M1549.9 812.2h0M1621.3 806.1h0M1589.3 781.3h0M1611.4 676.4h0M1610.3 787.1h0M1614.3 752.6h0M1598.7 784h0M1589 884.2h0M1602.1 804.1h0M1580.9 680.8h0M1628.4 756.8h0M1588.1 780.8h0M1569.1 850.5h0M1558.1 824h0M1625.3 776.7h0M1590.2 806.3h0M1546.8 842.7h0M1587.8 702.3h0M1551.3 862.4h0M1590.9 816.9h0M1563.7 865.8h0" stroke="#2e1c1c" stroke-width="1.8" stroke-linecap="round" fill="none"/>
<g filter="url(#sp)" clip-path="url(#cf)"><g>
<ellipse cx="1420" cy="648" rx="45" ry="28" transform="rotate(-15 1420 648)" fill-opacity="0.322" filter="url(#b8)"/>
<ellipse cx="1485" cy="712" rx="55" ry="32" fill-opacity="0.186" filter="url(#b10)"/>
<rect x="1538" y="574" width="68" height="12" fill-opacity="0.169" filter="url(#b4)"/>
<path d="M1530 716L1582 716L1572 800L1530 800Z" fill-opacity="0.28" filter="url(#b8)"/>
<ellipse cx="1460" cy="782" rx="82" ry="90" transform="rotate(25 1460 782)" fill-opacity="0.229" filter="url(#b14)"/>
<ellipse cx="1464" cy="778" rx="44" ry="34" transform="rotate(-35 1464 778)" fill-opacity="0.384" filter="url(#b11)"/>
<g opacity="0.153" filter="url(#b6)"><path d="M1591 589L1591 618.7L1583.5 658L1575.7 681L1532.6 681L1528.7 658L1497.4 660L1456 662L1458 648L1478 632.4L1507 620.7L1530.7 618.7L1540 603L1548 591Z" stroke="#000" stroke-width="30" stroke-linejoin="round"/></g>
<g opacity="0.37" filter="url(#b4)"><path d="M1591 589L1591 618.7L1583.5 658L1575.7 681L1532.6 681L1528.7 658L1497.4 660L1456 662L1458 648L1478 632.4L1507 620.7L1530.7 618.7L1540 603L1548 591Z" stroke="#000" stroke-width="12" stroke-linejoin="round"/></g>
<path d="M1497 598L1548 592L1530 619L1500 622Z" fill-opacity="0.146" filter="url(#b3)"/>
<path d="M1532 678L1578 678L1568 718L1538 718Z" fill-opacity="0.636" filter="url(#b4)"/>
<path d="M1591 589L1591 618.7L1583.5 658L1575.7 681L1532.6 681L1528.7 658L1497.4 660L1456 662L1458 648L1478 632.4L1507 620.7L1530.7 618.7L1540 603L1548 591Z" filter="url(#b2)"/>
</g></g>
<path d="M1257 844.6h-5M1257 817.4h-3M1257 801.5h-3M1257 790.2h-3M1257 781.5h-3M1257 774.3h-3M1257 768.3h-3M1257 763.1h-3M1257 758.4h-3M1257 754.3h-5M1257 727.2h-3M1257 711.4h-3M1257 700.1h-3M1257 691.4h-3M1257 684.3h-3M1257 678.2h-3M1257 673h-3M1257 668.4h-3M1257 664.3h-5M1257 637.1h-3M1257 621.2h-3M1257 609.9h-3M1257 601.2h-3M1257 594h-3M1257 588h-3M1257 582.8h-3M1257 578.1h-3M1257 574h-5M1257 559.4h-3M1257 550.9h-3M1257 544.8h-3M1257 540.1h-3M1257 536.3h-3M1257 533h-3M1257 530.2h-3M1257 527.7h-3M1257 525.5h-5" stroke="#3a3a3a" stroke-width="1" fill="none"/>
<path d="M1315.5 896.5v6M1345.8 896.5v4M1363.5 896.5v4M1376 896.5v4M1385.7 896.5v4M1393.7 896.5v4M1400.4 896.5v4M1406.3 896.5v4M1411.4 896.5v4M1416 896.5v6M1445.8 896.5v4M1463.2 896.5v4M1475.6 896.5v4M1485.2 896.5v4M1493 896.5v4M1499.7 896.5v4M1505.4 896.5v4M1510.5 896.5v4M1515 896.5v6M1544.8 896.5v4M1562.3 896.5v4M1574.7 896.5v4M1584.3 896.5v4M1592.1 896.5v4M1598.7 896.5v4M1604.5 896.5v4M1609.6 896.5v4M1614.1 896.5v6M1644.3 896.5v4M1662 896.5v4M1674.5 896.5v4M1684.3 896.5v4M1692.2 896.5v4M1698.9 896.5v4M1704.8 896.5v4M1709.9 896.5v4M1714.5 896.5v6M1744.7 896.5v4" stroke="#555" stroke-width="1" fill="none"/>
<line x1="1311" y1="894.3" x2="1558" y2="894.3" stroke="#e8766a" stroke-width="2"/>
<line x1="1562" y1="894.3" x2="1580" y2="894.3" stroke="#eda79e" stroke-width="2"/>
<line x1="1528.7" y1="483.4" x2="1528.7" y2="895" stroke="#111" stroke-width="2"/>
<line x1="1259" y1="682.3" x2="1757" y2="682.3" stroke="#111" stroke-width="2"/>
<text x="1258.8" y="504" font-size="20" textLength="24.6" lengthAdjust="spacingAndGlyphs" fill="#1a1a1a">UL</text>
<text x="1259" y="527" font-size="20" textLength="51.6" lengthAdjust="spacingAndGlyphs" fill="#1a1a1a">15.00</text>
<text x="1704.8" y="504.2" font-size="20" textLength="26.6" lengthAdjust="spacingAndGlyphs" fill="#1a1a1a">UR</text>
<text x="1705" y="527.4" font-size="20" textLength="51.6" lengthAdjust="spacingAndGlyphs" fill="#1a1a1a">47.92</text>
<text x="1258.8" y="868.3" font-size="20" textLength="21.4" lengthAdjust="spacingAndGlyphs" fill="#1a1a1a">LL</text>
<text x="1259" y="891.6" font-size="20" textLength="51.6" lengthAdjust="spacingAndGlyphs" fill="#1a1a1a">27.74</text>
<text x="1716.2" y="867.8" font-size="20" textLength="24.6" lengthAdjust="spacingAndGlyphs" fill="#1a1a1a">LR</text>
<text x="1716.4" y="891" font-size="20" textLength="39.6" lengthAdjust="spacingAndGlyphs" fill="#1a1a1a">9.34</text>
<text x="1232.3" y="531" class="tk" textLength="20.5" lengthAdjust="spacingAndGlyphs">10<tspan dy="-8" font-size="13">5</tspan></text>
<text x="1232.3" y="579.5" class="tk" textLength="20.5" lengthAdjust="spacingAndGlyphs">10<tspan dy="-8" font-size="13">4</tspan></text>
<text x="1232.3" y="669.8" class="tk" textLength="20.5" lengthAdjust="spacingAndGlyphs">10<tspan dy="-8" font-size="13">3</tspan></text>
<text x="1232.3" y="759.8" class="tk" textLength="20.5" lengthAdjust="spacingAndGlyphs">10<tspan dy="-8" font-size="13">2</tspan></text>
<text x="1232.3" y="850.1" class="tk" textLength="20.5" lengthAdjust="spacingAndGlyphs">10<tspan dy="-8" font-size="13">1</tspan></text>
<text x="1309.8" y="916.5" class="tk" textLength="20.5" lengthAdjust="spacingAndGlyphs">10<tspan dy="-8" font-size="13">1</tspan></text>
<text x="1410.3" y="916.5" class="tk" textLength="20.5" lengthAdjust="spacingAndGlyphs">10<tspan dy="-8" font-size="13">2</tspan></text>
<text x="1509.3" y="916.5" class="tk" textLength="20.5" lengthAdjust="spacingAndGlyphs">10<tspan dy="-8" font-size="13">3</tspan></text>
<text x="1608.4" y="916.5" class="tk" textLength="20.5" lengthAdjust="spacingAndGlyphs">10<tspan dy="-8" font-size="13">4</tspan></text>
<text x="1708.8" y="916.5" class="tk" textLength="20.5" lengthAdjust="spacingAndGlyphs">10<tspan dy="-8" font-size="13">5</tspan></text>
<text x="1483" y="941" font-size="19" textLength="60.4" lengthAdjust="spacingAndGlyphs" fill="#1a1a1a">FITC-A</text>
<text x="1224" y="690" font-size="19" textLength="41" lengthAdjust="spacingAndGlyphs" fill="#1a1a1a" transform="rotate(-90 1224 690)">PE-A</text>
<text x="1200.6" y="517.5" font-size="30" textLength="28.4" lengthAdjust="spacingAndGlyphs" fill="#1d1a9c" class="se">(f)</text>
<text x="1476.3" y="479.3" font-size="24" textLength="57.7" lengthAdjust="spacingAndGlyphs" fill="#1a1a1a">A - P1</text>
</g>
<text x="320.5" y="1002" font-size="52" textLength="67" lengthAdjust="spacingAndGlyphs" fill="#2c12d4" class="se" stroke="#2c12d4" stroke-width="0.6">Ck</text>
<text x="834" y="1002" font-size="52" textLength="203.5" lengthAdjust="spacingAndGlyphs" fill="#2c12d4" class="se" stroke="#2c12d4" stroke-width="0.6">Free SGI</text>
<text x="1412.5" y="1002" font-size="52" textLength="232" lengthAdjust="spacingAndGlyphs" fill="#2c12d4" class="se" stroke="#2c12d4" stroke-width="0.6">Conjugate</text>
<text x="42.5" y="258.5" font-size="52" textLength="93.5" lengthAdjust="spacingAndGlyphs" fill="#2c12d4" class="se" stroke="#2c12d4" stroke-width="0.6" transform="rotate(-90 42.5 258.5)">24 h</text>
<text x="42.3" y="772.8" font-size="52" textLength="94.5" lengthAdjust="spacingAndGlyphs" fill="#2c12d4" class="se" stroke="#2c12d4" stroke-width="0.6" transform="rotate(-90 42.3 772.8)">48 h</text>
</svg></body></html>
